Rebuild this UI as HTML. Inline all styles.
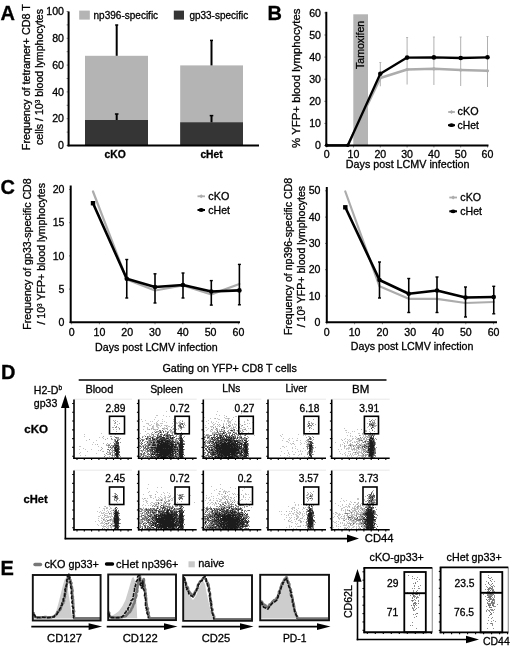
<!DOCTYPE html>
<html><head><meta charset="utf-8"><style>
html,body{margin:0;padding:0;background:#fff;}
svg{display:block;filter:blur(0.3px);}
text{font-family:"Liberation Sans",sans-serif;font-size:10.6px;fill:#000;stroke:#000;stroke-width:0.3px;}
</style></head><body>
<svg width="520" height="649" viewBox="0 0 520 649">
<defs><filter id="bl" x="-5%" y="-5%" width="110%" height="110%"><feGaussianBlur stdDeviation="0.55"/></filter></defs>
<rect width="520" height="649" fill="#fff"/>
<g filter="url(#bl)" transform="translate(0.5 0.5)"><path d="M233 410h0m-67 1h0m51 0h0m24 2h0m-25 1h0m-60 1h0m1 0h0m6 0h0m56 0h0m5 0h0m-58 1h0m3 0h0m66 0h0m1 0h0m-81 1h0m49 0h0m20 0h0m9 0h0m-23 1h0m4 0h0m3 0h0m8 0h0m1 0h0m1 0h0m2 0h0m-90 1h0m2 0h0m13 0h0m8 0h0m11 0h0m2 0h0m43 0h0m1 0h0m9 0h0m4 0h0m15 0h0m-102 1h0m13 0h0m22 0h0m2 0h0m26 0h0m13 0h0m3 0h0m3 0h0m1 0h0m3 0h0m17 0h0m-106 1h0m8 0h0m2 0h0m5 0h0m5 0h0m2 0h0m9 0h0m2 0h0m4 0h0m27 0h0m5 0h0m5 0h0m8 0h0m3 0h0m1 0h0m1 0h0m1 0h0m5 0h0m4 0h0m5 0h0m-88 1h0m10 0h0m10 0h0m2 0h0m1 0h0m5 0h0m27 0h0m2 0h0m5 0h0m10 0h0m1 0h0m1 0h0m14 0h0m8 0h0m-106 1h0m1 0h0m1 0h0m6 0h0m2 0h0m1 0h0m3 0h0m1 0h0m1 0h0m10 0h0m4 0h0m1 0h0m6 0h0m1 0h0m24 0h0m4 0h0m3 0h0m8 0h0m3 0h0m2 0h0m2 0h0m4 0h0m5 0h0m8 0h0m2 0h0m-101 1h0m3 0h0m6 0h0m1 0h0m55 0h0m1 0h0m12 0h0m3 0h0m5 0h0m1 0h0m1 0h0m4 0h0m5 0h0m-96 1h0m1 0h0m3 0h0m3 0h0m1 0h0m1 0h0m1 0h0m5 0h0m1 0h0m1 0h0m1 0h0m6 0h0m12 0h0m20 0h0m8 0h0m5 0h0m2 0h0m3 0h0m6 0h0m3 0h0m4 0h0m5 0h0m-98 1h0m1 0h0m9 0h0m3 0h0m1 0h0m3 0h0m8 0h0m1 0h0m3 0h0m3 0h0m3 0h0m32 0h0m1 0h0m6 0h0m9 0h0m4 0h0m3 0h0m2 0h0m4 0h0m2 0h0m-94 1h0m5 0h0m1 0h0m4 0h0m1 0h0m6 0h0m3 0h0m12 0h0m5 0h0m21 0h0m1 0h0m5 0h0m4 0h0m6 0h0m5 0h0m1 0h0m1 0h0m3 0h0m3 0h0m1 0h0m8 0h0m1 0h0m123 0h0m-220 1h0m5 0h0m1 0h0m5 0h0m6 0h0m1 0h0m2 0h0m41 0h0m5 0h0m4 0h0m6 0h0m3 0h0m1 0h0m3 0h0m1 0h0m1 0h0m1 0h0m3 0h0m4 0h0m1 0h0m4 0h0m3 0h0m96 0h0m-201 1h0m4 0h0m1 0h0m3 0h0m4 0h0m1 0h0m7 0h0m1 0h0m8 0h0m6 0h0m29 0h0m5 0h0m4 0h0m3 0h0m3 0h0m1 0h0m6 0h0m2 0h0m11 0h0m1 0h0m114 0h0m-202 1h0m10 0h0m5 0h0m10 0h0m26 0h0m4 0h0m2 0h0m7 0h0m4 0h0m10 0h0m3 0h0m4 0h0m6 0h0m99 0h0m1 0h0m20 0h0m-207 1h0m2 0h0m5 0h0m1 0h0m4 0h0m1 0h0m1 0h0m31 0h0m6 0h0m1 0h0m3 0h0m14 0h0m3 0h0m2 0h0m1 0h0m3 0h0m5 0h0m110 0h0m2 0h0m15 0h0m-212 1h0m13 0h0m1 0h0m5 0h0m36 0h0m1 0h0m2 0h0m5 0h0m15 0h0m1 0h0m3 0h0m9 0h0m98 0h0m2 0h0m15 0h0m-262 1h0m39 0h0m7 0h0m1 0h0m6 0h0m5 0h0m6 0h0m6 0h0m12 0h0m30 0h0m1 0h0m2 0h0m11 0h0m7 0h0m4 0h0m112 0h0m8 0h0m1 0h0m-275 1h0m62 0h0m3 0h0m2 0h0m4 0h0m1 0h0m22 0h0m43 0h0m3 0h0m18 0h0m40 0h0m16 0h0m64 0h0m3 0h0m-221 1h0m5 0h0m2 0h0m8 0h0m46 0h0m32 0h0m17 0h0m26 0h0m23 0h0m2 0h0m42 0h0m3 0h0m10 0h0m3 0h0m-279 1h0m59 0h0m9 0h0m26 0h0m44 0h0m59 0h0m69 0h0m2 0h0m3 0h0m8 0h0m2 0h0m3 0h0m-269 1h0m3 0h0m63 0h0m191 0h0m8 0h0m-261 1h0m66 0h0m39 0h0m75 0h0m6 0h0m3 0h0m5 0h0m35 0h0m13 0h0m7 0h0m1 0h0m2 0h0m2 0h0m2 0h0m1 0h0m-186 1h0m114 0h0m53 0h0m3 0h0m3 0h0m2 0h0m3 0h0m4 0h0m2 0h0m2 0h0m1 0h0m-275 1h0m10 0h0m186 0h0m7 0h0m7 0h0m1 0h0m3 0h0m48 0h0m2 0h0m1 0h0m7 0h0m-72 1h0m1 0h0m6 0h0m12 0h0m40 0h0m2 0h0m2 0h0m1 0h0m4 0h0m3 0h0m1 0h0m1 0h0m7 0h0m-273 1h0m195 0h0m12 0h0m35 0h0m8 0h0m11 0h0m1 0h0m2 0h0m2 0h0m3 0h0m2 0h0m3 0h0m-77 1h0m2 0h0m9 0h0m3 0h0m3 0h0m40 0h0m18 0h0m-273 1h0m3 0h0m196 0h0m3 0h0m6 0h0m6 0h0m34 0h0m2 0h0m7 0h0m2 0h0m1 0h0m8 0h0m1 0h0m1 0h0m1 0h0m2 0h0m-25 1h0m6 0h0m5 0h0m1 0h0m3 0h0m1 0h0m1 0h0m2 0h0m2 0h0m1 0h0m1 0h0m4 0h0m-288 1h0m1 0h0m18 0h0m184 0h0m1 0h0m3 0h0m9 0h0m45 0h0m5 0h0m5 0h0m1 0h0m4 0h0m2 0h0m4 0h0m-77 1h0m8 0h0m52 0h0m4 0h0m1 0h0m2 0h0m3 0h0m7 0h0m-278 1h0m197 0h0m12 0h0m3 0h0m8 0h0m41 0h0m2 0h0m1 0h0m1 0h0m1 0h0m2 0h0m5 0h0m1 0h0m3 0h0m1 0h0m-282 1h0m6 0h0m6 0h0m206 0h0m41 0h0m3 0h0m5 0h0m2 0h0m3 0h0m2 0h0m2 0h0m1 0h0m2 0h0m1 0h0m2 0h0m1 0h0m5 0h0m-269 1h0m189 0h0m13 0h0m5 0h0m47 0h0m2 0h0m2 0h0m1 0h0m4 0h0m1 0h0m2 0h0m2 0h0m-279 1h0m15 0h0m179 0h0m11 0h0m6 0h0m2 0h0m2 0h0m37 0h0m9 0h0m1 0h0m1 0h0m6 0h0m2 0h0m1 0h0m2 0h0m4 0h0m-285 1h0m208 0h0m7 0h0m50 0h0m9 0h0m2 0h0m1 0h0m1 0h0m1 0h0m1 0h0m-281 1h0m17 0h0m188 0h0m4 0h0m13 0h0m39 0h0m4 0h0m4 0h0m2 0h0m2 0h0m3 0h0m6 0h0m-72 1h0m4 0h0m1 0h0m5 0h0m2 0h0m41 0h0m3 0h0m7 0h0m2 0h0m1 0h0m1 0h0m2 0h0m4 0h0m-282 1h0m5 0h0m195 0h0m7 0h0m11 0h0m47 0h0m2 0h0m2 0h0m2 0h0m2 0h0m6 0h0m1 0h0m1 0h0m3 0h0m-75 1h0m15 0h0m43 0h0m4 0h0m6 0h0m4 0h0m-77 1h0m13 0h0m51 0h0m4 0h0m4 0h0m6 0h0m-214 27h0m72 0h0m-9 2h0m29 0h0m-83 1h0m4 0h0m69 0h0m-83 1h0m73 0h0m15 0h0m9 0h0m-70 1h0m42 0h0m6 0h0m-8 1h0m10 0h0m18 0h0m-93 1h0m7 0h0m64 0h0m3 0h0m1 0h0m1 0h0m1 0h0m2 0h0m1 0h0m-81 1h0m9 0h0m6 0h0m4 0h0m56 0h0m2 0h0m2 0h0m-63 1h0m5 0h0m42 0h0m7 0h0m1 0h0m13 0h0m2 0h0m11 0h0m-102 1h0m18 0h0m16 0h0m42 0h0m2 0h0m1 0h0m7 0h0m6 0h0m2 0h0m8 0h0m1 0h0m2 0h0m-99 1h0m1 0h0m1 0h0m13 0h0m4 0h0m2 0h0m20 0h0m16 0h0m11 0h0m7 0h0m15 0h0m4 0h0m-93 1h0m5 0h0m5 0h0m5 0h0m5 0h0m4 0h0m10 0h0m27 0h0m2 0h0m8 0h0m2 0h0m1 0h0m1 0h0m1 0h0m2 0h0m8 0h0m-86 1h0m1 0h0m4 0h0m3 0h0m3 0h0m3 0h0m1 0h0m2 0h0m1 0h0m1 0h0m4 0h0m5 0h0m28 0h0m3 0h0m13 0h0m3 0h0m3 0h0m3 0h0m7 0h0m1 0h0m4 0h0m2 0h0m4 0h0m-107 1h0m3 0h0m2 0h0m6 0h0m6 0h0m3 0h0m2 0h0m1 0h0m6 0h0m1 0h0m34 0h0m2 0h0m5 0h0m3 0h0m2 0h0m5 0h0m2 0h0m3 0h0m3 0h0m2 0h0m108 0h0m16 0h0m1 0h0m-215 1h0m13 0h0m4 0h0m2 0h0m3 0h0m3 0h0m2 0h0m2 0h0m2 0h0m36 0h0m9 0h0m1 0h0m1 0h0m3 0h0m3 0h0m2 0h0m1 0h0m4 0h0m7 0h0m1 0h0m3 0h0m3 0h0m109 0h0m1 0h0m6 0h0m-219 1h0m1 0h0m12 0h0m1 0h0m1 0h0m2 0h0m3 0h0m6 0h0m1 0h0m33 0h0m4 0h0m1 0h0m3 0h0m3 0h0m1 0h0m3 0h0m1 0h0m9 0h0m2 0h0m8 0h0m103 0h0m3 0h0m18 0h0m-221 1h0m3 0h0m1 0h0m20 0h0m2 0h0m48 0h0m3 0h0m8 0h0m2 0h0m1 0h0m2 0h0m2 0h0m2 0h0m103 0h0m4 0h0m6 0h0m-233 1h0m29 0h0m5 0h0m1 0h0m3 0h0m1 0h0m1 0h0m3 0h0m6 0h0m11 0h0m17 0h0m14 0h0m3 0h0m1 0h0m9 0h0m1 0h0m1 0h0m5 0h0m1 0h0m8 0h0m57 0h0m57 0h0m4 0h0m-208 1h0m3 0h0m3 0h0m3 0h0m3 0h0m2 0h0m2 0h0m1 0h0m4 0h0m2 0h0m37 0h0m3 0h0m3 0h0m3 0h0m7 0h0m6 0h0m17 0h0m60 0h0m29 0h0m14 0h0m8 0h0m1 0h0m3 0h0m1 0h0m-252 1h0m4 0h0m25 0h0m4 0h0m8 0h0m3 0h0m1 0h0m2 0h0m1 0h0m2 0h0m4 0h0m2 0h0m7 0h0m11 0h0m25 0h0m3 0h0m2 0h0m2 0h0m3 0h0m7 0h0m2 0h0m1 0h0m13 0h0m53 0h0m3 0h0m3 0h0m41 0h0m4 0h0m3 0h0m1 0h0m6 0h0m4 0h0m-246 1h0m28 0h0m3 0h0m3 0h0m2 0h0m2 0h0m4 0h0m2 0h0m6 0h0m2 0h0m2 0h0m1 0h0m3 0h0m42 0h0m13 0h0m68 0h0m3 0h0m40 0h0m4 0h0m6 0h0m7 0h0m-251 1h0m5 0h0m46 0h0m1 0h0m2 0h0m15 0h0m4 0h0m30 0h0m3 0h0m10 0h0m4 0h0m1 0h0m2 0h0m61 0h0m52 0h0m5 0h0m1 0h0m2 0h0m6 0h0m1 0h0m4 0h0m1 0h0m3 0h0m2 0h0m-266 1h0m7 0h0m1 0h0m3 0h0m33 0h0m15 0h0m62 0h0m5 0h0m12 0h0m5 0h0m9 0h0m41 0h0m1 0h0m1 0h0m11 0h0m2 0h0m36 0h0m1 0h0m3 0h0m2 0h0m3 0h0m2 0h0m2 0h0m2 0h0m2 0h0m-257 1h0m1 0h0m3 0h0m3 0h0m1 0h0m3 0h0m47 0h0m14 0h0m45 0h0m6 0h0m65 0h0m1 0h0m2 0h0m4 0h0m5 0h0m1 0h0m37 0h0m1 0h0m10 0h0m1 0h0m2 0h0m3 0h0m5 0h0m-259 1h0m5 0h0m4 0h0m1 0h0m56 0h0m34 0h0m26 0h0m62 0h0m4 0h0m6 0h0m39 0h0m4 0h0m2 0h0m7 0h0m1 0h0m1 0h0m1 0h0m2 0h0m2 0h0m2 0h0m1 0h0m-262 1h0m2 0h0m3 0h0m4 0h0m1 0h0m2 0h0m29 0h0m35 0h0m31 0h0m88 0h0m44 0h0m2 0h0m2 0h0m3 0h0m4 0h0m1 0h0m5 0h0m5 0h0m2 0h0m-268 1h0m3 0h0m6 0h0m2 0h0m129 0h0m42 0h0m2 0h0m8 0h0m7 0h0m3 0h0m4 0h0m42 0h0m4 0h0m1 0h0m2 0h0m1 0h0m2 0h0m6 0h0m-262 1h0m2 0h0m2 0h0m1 0h0m7 0h0m183 0h0m2 0h0m1 0h0m2 0h0m37 0h0m9 0h0m5 0h0m2 0h0m4 0h0m1 0h0m2 0h0m1 0h0m3 0h0m-262 1h0m1 0h0m1 0h0m2 0h0m1 0h0m1 0h0m6 0h0m43 0h0m133 0h0m1 0h0m2 0h0m1 0h0m4 0h0m1 0h0m2 0h0m2 0h0m2 0h0m2 0h0m27 0h0m3 0h0m1 0h0m2 0h0m5 0h0m10 0h0m4 0h0m2 0h0m1 0h0m-252 1h0m2 0h0m38 0h0m132 0h0m3 0h0m4 0h0m5 0h0m2 0h0m1 0h0m6 0h0m33 0h0m3 0h0m1 0h0m1 0h0m2 0h0m9 0h0m1 0h0m1 0h0m1 0h0m3 0h0m-257 1h0m4 0h0m2 0h0m1 0h0m4 0h0m175 0h0m2 0h0m3 0h0m5 0h0m1 0h0m5 0h0m2 0h0m34 0h0m1 0h0m7 0h0m3 0h0m1 0h0m1 0h0m3 0h0m1 0h0m7 0h0m1 0h0m-265 1h0m1 0h0m8 0h0m1 0h0m1 0h0m1 0h0m1 0h0m185 0h0m1 0h0m1 0h0m5 0h0m31 0h0m9 0h0m1 0h0m3 0h0m5 0h0m11 0h0m-262 1h0m2 0h0m2 0h0m2 0h0m179 0h0m3 0h0m2 0h0m3 0h0m3 0h0m1 0h0m4 0h0m31 0h0m7 0h0m4 0h0m3 0h0m8 0h0m5 0h0m-262 1h0m3 0h0m1 0h0m2 0h0m7 0h0m179 0h0m7 0h0m4 0h0m1 0h0m36 0h0m1 0h0m2 0h0m1 0h0m1 0h0m3 0h0m3 0h0m1 0h0m1 0h0m4 0h0m4 0h0m-255 1h0m5 0h0m3 0h0m172 0h0m5 0h0m5 0h0m5 0h0m5 0h0m35 0h0m4 0h0m2 0h0m1 0h0m7 0h0m-255 1h0m3 0h0m2 0h0m1 0h0m1 0h0m6 0h0m180 0h0m8 0h0m50 0h0m1 0h0m1 0h0m3 0h0m9 0h0m-268 1h0m4 0h0m3 0h0m4 0h0m4 0h0m178 0h0m1 0h0m1 0h0m5 0h0m8 0h0m30 0h0m3 0h0m2 0h0m8 0h0m2 0h0m3 0h0m1 0h0m1 0h0m1 0h0m4 0h0m1 0h0m1 0h0m-259 1h0m1 0h0m7 0h0m3 0h0m1 0h0m178 0h0m1 0h0m9 0h0m4 0h0m29 0h0m1 0h0m5 0h0m2 0h0m5 0h0m2 0h0m3 0h0m1 0h0m1 0h0m5 0h0m-259 1h0m1 0h0m1 0h0m1 0h0m4 0h0m3 0h0m1 0h0m184 0h0m2 0h0m39 0h0m4 0h0m2 0h0m2 0h0m3 0h0m10 0h0m1 0h0m-261 1h0m9 0h0m1 0h0m5 0h0m184 0h0m42 0h0m6 0h0m2 0h0m6 0h0m6 0h0m3 0h0m1 0h0m-264 1h0m3 0h0m2 0h0m3 0h0m2 0h0m1 0h0m180 0h0m11 0h0m3 0h0m2 0h0m27 0h0m4 0h0m7 0h0m1 0h0m1 0h0m1 0h0m2 0h0m2 0h0m1 0h0m1 0h0m6 0h0m3 0h0m2 0h0m-261 1h0m1 0h0m4 0h0m1 0h0m2 0h0m1 0h0m1 0h0m177 0h0m6 0h0m2 0h0m2 0h0m37 0h0m2 0h0m2 0h0m8 0h0m1 0h0m4 0h0m1 0h0m2 0h0m2 0h0m1 0h0m3 0h0m-259 1h0m5 0h0m2 0h0m4 0h0m172 0h0m3 0h0m16 0h0m28 0h0m11 0h0m1 0h0m4 0h0m3 0h0m1 0h0m3 0h0m6 0h0m1 0h0m1 0h0m-256 1h0m3 0h0m182 0h0m3 0h0m42 0h0m7 0h0m3 0h0m3 0h0m8 0h0m-258 1h0m3 0h0m8 0h0m184 0h0m46 0h0m17 0h0m1 0h0" stroke="rgb(196,196,196)" stroke-width="1" stroke-linecap="square" fill="none"/><path d="M226 416h0m-11 2h0m13 0h0m76 1h0m9 0h0m56 0h0m3 0h0m3 0h0m-262 1h0m2 0h0m132 0h0m126 0h0m1 0h0m-260 1h0m3 0h0m191 0h0m1 0h0m63 0h0m2 0h0m-194 1h0m128 0h0m3 0h0m59 0h0m3 0h0m-259 1h0m1 0h0m4 0h0m60 0h0m1 0h0m131 0h0m1 0h0m1 0h0m54 0h0m3 0h0m2 0h0m2 0h0m1 0h0m-258 1h0m39 0h0m23 0h0m2 0h0m36 0h0m2 0h0m4 0h0m9 0h0m12 0h0m63 0h0m8 0h0m59 0h0m-260 1h0m47 0h0m69 0h0m83 0h0m57 0h0m4 0h0m1 0h0m1 0h0m-224 1h0m14 0h0m46 0h0m3 0h0m4 0h0m28 0h0m60 0h0m4 0h0m57 0h0m2 0h0m3 0h0m1 0h0m1 0h0m-263 1h0m1 0h0m3 0h0m2 0h0m65 0h0m40 0h0m15 0h0m72 0h0m61 0h0m-220 1h0m12 0h0m15 0h0m72 0h0m61 0h0m63 0h0m-261 1h0m3 0h0m3 0h0m34 0h0m1 0h0m19 0h0m8 0h0m34 0h0m2 0h0m96 0h0m48 0h0m8 0h0m3 0h0m-203 1h0m47 0h0m5 0h0m144 0h0m-249 1h0m29 0h0m9 0h0m69 0h0m9 0h0m77 0h0m56 0h0m1 0h0m8 0h0m-201 1h0m41 0h0m28 0h0m128 0h0m-219 1h0m10 0h0m201 0h0m-247 1h0m89 0h0m2 0h0m1 0h0m1 0h0m4 0h0m1 0h0m2 0h0m10 0h0m144 0h0m-161 1h0m1 0h0m4 0h0m152 0h0m-262 1h0m7 0h0m1 0h0m3 0h0m28 0h0m6 0h0m56 0h0m1 0h0m2 0h0m1 0h0m5 0h0m95 0h0m1 0h0m3 0h0m54 0h0m1 0h0m-217 1h0m59 0h0m97 0h0m3 0h0m53 0h0m3 0h0m3 0h0m-261 1h0m10 0h0m23 0h0m5 0h0m3 0h0m56 0h0m5 0h0m1 0h0m5 0h0m96 0h0m50 0h0m2 0h0m1 0h0m-275 1h0m16 0h0m6 0h0m1 0h0m31 0h0m1 0h0m4 0h0m1 0h0m60 0h0m1 0h0m97 0h0m2 0h0m2 0h0m2 0h0m44 0h0m2 0h0m4 0h0m1 0h0m2 0h0m1 0h0m-253 1h0m91 0h0m4 0h0m3 0h0m94 0h0m1 0h0m1 0h0m4 0h0m30 0h0m18 0h0m5 0h0m1 0h0m-252 1h0m26 0h0m5 0h0m1 0h0m2 0h0m4 0h0m56 0h0m99 0h0m49 0h0m6 0h0m-249 1h0m26 0h0m9 0h0m57 0h0m1 0h0m1 0h0m4 0h0m3 0h0m92 0h0m2 0h0m1 0h0m38 0h0m5 0h0m-249 1h0m4 0h0m3 0h0m31 0h0m5 0h0m1 0h0m4 0h0m53 0h0m4 0h0m85 0h0m16 0h0m4 0h0m31 0h0m6 0h0m7 0h0m1 0h0m3 0h0m-264 1h0m9 0h0m2 0h0m1 0h0m35 0h0m3 0h0m58 0h0m7 0h0m3 0h0m135 0h0m-244 1h0m1 0h0m5 0h0m27 0h0m1 0h0m2 0h0m1 0h0m1 0h0m1 0h0m5 0h0m54 0h0m4 0h0m99 0h0m1 0h0m5 0h0m31 0h0m4 0h0m1 0h0m4 0h0m1 0h0m4 0h0m8 0h0m-258 1h0m4 0h0m2 0h0m25 0h0m2 0h0m1 0h0m4 0h0m4 0h0m2 0h0m52 0h0m7 0h0m133 0h0m14 0h0m1 0h0m6 0h0m-264 1h0m8 0h0m2 0h0m2 0h0m31 0h0m64 0h0m5 0h0m100 0h0m2 0h0m41 0h0m1 0h0m2 0h0m1 0h0m6 0h0m-264 1h0m10 0h0m31 0h0m6 0h0m1 0h0m158 0h0m5 0h0m40 0h0m1 0h0m9 0h0m4 0h0m-266 1h0m11 0h0m33 0h0m162 0h0m45 0h0m2 0h0m11 0h0m-265 1h0m11 0h0m1 0h0m28 0h0m2 0h0m2 0h0m219 0h0m-260 1h0m4 0h0m2 0h0m32 0h0m4 0h0m1 0h0m65 0h0m103 0h0m49 0h0m-256 1h0m1 0h0m1 0h0m1 0h0m1 0h0m1 0h0m1 0h0m29 0h0m4 0h0m5 0h0m156 0h0m1 0h0m45 0h0m8 0h0m5 0h0m-257 1h0m3 0h0m2 0h0m31 0h0m2 0h0m57 0h0m1 0h0m102 0h0m1 0h0m49 0h0m1 0h0m6 0h0m4 0h0m-264 1h0m3 0h0m1 0h0m1 0h0m31 0h0m2 0h0m2 0h0m6 0h0m161 0h0m2 0h0m37 0h0m16 0h0m-261 1h0m6 0h0m2 0h0m27 0h0m6 0h0m2 0h0m57 0h0m4 0h0m7 0h0m142 0h0m4 0h0m4 0h0m-257 1h0m3 0h0m33 0h0m5 0h0m55 0h0m1 0h0m102 0h0m54 0h0m1 0h0m-256 1h0m4 0h0m1 0h0m29 0h0m1 0h0m3 0h0m62 0h0m1 0h0m3 0h0m101 0h0m47 0h0m5 0h0m9 33h0m-154 1h0m94 0h0m-6 1h0m3 0h0m62 0h0m-258 1h0m194 0h0m3 0h0m62 0h0m-258 1h0m40 0h0m24 0h0m1 0h0m1 0h0m2 0h0m50 0h0m8 0h0m66 0h0m1 0h0m2 0h0m58 0h0m-254 1h0m64 0h0m3 0h0m1 0h0m45 0h0m79 0h0m1 0h0m4 0h0m1 0h0m57 0h0m2 0h0m-259 1h0m1 0h0m4 0h0m52 0h0m10 0h0m1 0h0m3 0h0m60 0h0m69 0h0m53 0h0m3 0h0m-144 1h0m6 0h0m4 0h0m72 0h0m1 0h0m1 0h0m3 0h0m57 0h0m5 0h0m-259 1h0m1 0h0m3 0h0m26 0h0m34 0h0m1 0h0m43 0h0m87 0h0m2 0h0m56 0h0m1 0h0m-252 1h0m42 0h0m3 0h0m21 0h0m126 0h0m4 0h0m56 0h0m5 0h0m1 0h0m1 0h0m-261 1h0m1 0h0m4 0h0m37 0h0m1 0h0m11 0h0m59 0h0m81 0h0m3 0h0m57 0h0m6 0h0m1 0h0m-259 1h0m65 0h0m69 0h0m57 0h0m58 0h0m1 0h0m6 0h0m1 0h0m1 0h0m-213 1h0m3 0h0m190 0h0m4 0h0m12 0h0m5 0h0m-221 1h0m61 0h0m7 0h0m4 0h0m144 0h0m-202 1h0m185 0h0m4 0h0m6 0h0m10 0h0m2 0h0m-210 1h0m193 0h0m2 0h0m2 0h0m4 0h0m1 0h0m-262 1h0m244 0h0m9 0h0m-154 1h0m14 0h0m85 0h0m54 0h0m4 0h0m-255 1h0m33 0h0m2 0h0m2 0h0m2 0h0m3 0h0m3 0h0m54 0h0m3 0h0m7 0h0m2 0h0m1 0h0m4 0h0m132 0h0m3 0h0m3 0h0m1 0h0m1 0h0m-222 1h0m4 0h0m8 0h0m60 0h0m3 0h0m136 0h0m-212 1h0m2 0h0m1 0h0m2 0h0m1 0h0m8 0h0m52 0h0m1 0h0m5 0h0m83 0h0m53 0h0m7 0h0m1 0h0m5 0h0m2 0h0m-252 1h0m29 0h0m15 0h0m51 0h0m3 0h0m1 0h0m1 0h0m9 0h0m67 0h0m5 0h0m65 0h0m7 0h0m1 0h0m-256 1h0m34 0h0m1 0h0m1 0h0m3 0h0m2 0h0m2 0h0m58 0h0m1 0h0m3 0h0m87 0h0m35 0h0m19 0h0m7 0h0m1 0h0m-252 1h0m1 0h0m29 0h0m1 0h0m3 0h0m1 0h0m2 0h0m2 0h0m3 0h0m52 0h0m4 0h0m3 0h0m137 0h0m1 0h0m2 0h0m5 0h0m1 0h0m5 0h0m-258 1h0m37 0h0m3 0h0m1 0h0m1 0h0m6 0h0m52 0h0m2 0h0m5 0h0m88 0h0m48 0h0m9 0h0m2 0h0m1 0h0m2 0h0m-259 1h0m3 0h0m39 0h0m1 0h0m7 0h0m1 0h0m54 0h0m137 0h0m3 0h0m5 0h0m9 0h0m-257 1h0m8 0h0m27 0h0m1 0h0m6 0h0m2 0h0m60 0h0m129 0h0m4 0h0m12 0h0m5 0h0m2 0h0m-254 1h0m2 0h0m2 0h0m31 0h0m1 0h0m1 0h0m1 0h0m3 0h0m4 0h0m53 0h0m7 0h0m127 0h0m13 0h0m1 0h0m1 0h0m1 0h0m5 0h0m-209 1h0m62 0h0m1 0h0m2 0h0m81 0h0m4 0h0m44 0h0m4 0h0m13 0h0m-255 1h0m5 0h0m29 0h0m5 0h0m2 0h0m4 0h0m53 0h0m2 0h0m3 0h0m87 0h0m55 0h0m3 0h0m3 0h0m-248 1h0m1 0h0m2 0h0m28 0h0m1 0h0m1 0h0m3 0h0m5 0h0m2 0h0m52 0h0m1 0h0m1 0h0m82 0h0m10 0h0m2 0h0m43 0h0m9 0h0m-247 1h0m2 0h0m5 0h0m28 0h0m1 0h0m2 0h0m3 0h0m7 0h0m55 0h0m2 0h0m90 0h0m1 0h0m54 0h0m1 0h0m-252 1h0m4 0h0m31 0h0m1 0h0m1 0h0m3 0h0m1 0h0m68 0h0m87 0h0m55 0h0m6 0h0m1 0h0m-257 1h0m7 0h0m1 0h0m26 0h0m6 0h0m3 0h0m56 0h0m144 0h0m1 0h0m1 0h0m1 0h0m3 0h0m2 0h0m3 0h0m1 0h0m-256 1h0m36 0h0m2 0h0m3 0h0m3 0h0m56 0h0m1 0h0m3 0h0m98 0h0m47 0h0m3 0h0m3 0h0m1 0h0m-248 1h0m31 0h0m3 0h0m1 0h0m57 0h0m3 0h0m155 0h0m-258 1h0m1 0h0m36 0h0m65 0h0m2 0h0m83 0h0m7 0h0m2 0h0m63 0h0m-257 1h0m5 0h0m33 0h0m4 0h0m58 0h0m141 0h0m12 0h0m-255 1h0m3 0h0m32 0h0m2 0h0m3 0h0m7 0h0m54 0h0m139 0h0m12 0h0m2 0h0m7 0h0m-221 1h0m1 0h0m2 0h0m58 0h0m140 0h0m8 0h0m11 0h0" stroke="rgb(172,172,172)" stroke-width="1" stroke-linecap="square" fill="none"/><path d="M184 424h0m-1 2h0m-12 1h0m11 0h0m31 0h0m20 0h0m-71 1h0m4 0h0m7 0h0m7 0h0m-31 1h0m8 0h0m10 0h0m3 0h0m6 0h0m35 0h0m22 0h0m11 0h0m1 0h0m-74 1h0m4 0h0m42 0h0m11 0h0m9 0h0m5 0h0m-86 1h0m1 0h0m1 0h0m10 0h0m2 0h0m49 0h0m2 0h0m19 0h0m3 0h0m-91 1h0m4 0h0m3 0h0m9 0h0m4 0h0m9 0h0m35 0h0m2 0h0m6 0h0m5 0h0m9 0h0m3 0h0m-75 1h0m6 0h0m6 0h0m2 0h0m32 0h0m3 0h0m4 0h0m2 0h0m5 0h0m2 0h0m1 0h0m3 0h0m7 0h0m6 0h0m127 0h0m3 0h0m-222 1h0m4 0h0m1 0h0m4 0h0m3 0h0m1 0h0m2 0h0m4 0h0m5 0h0m4 0h0m37 0h0m2 0h0m13 0h0m3 0h0m1 0h0m8 0h0m1 0h0m124 0h0m4 0h0m-216 1h0m3 0h0m4 0h0m8 0h0m3 0h0m3 0h0m28 0h0m15 0h0m4 0h0m1 0h0m7 0h0m1 0h0m5 0h0m4 0h0m115 0h0m10 0h0m1 0h0m3 0h0m1 0h0m-225 1h0m4 0h0m1 0h0m1 0h0m3 0h0m5 0h0m2 0h0m4 0h0m4 0h0m2 0h0m1 0h0m3 0h0m5 0h0m47 0h0m3 0h0m3 0h0m2 0h0m1 0h0m1 0h0m6 0h0m122 0h0m1 0h0m-253 1h0m1 0h0m21 0h0m9 0h0m5 0h0m18 0h0m12 0h0m55 0h0m1 0h0m6 0h0m3 0h0m119 0h0m2 0h0m3 0h0m-256 1h0m2 0h0m2 0h0m35 0h0m3 0h0m1 0h0m18 0h0m48 0h0m2 0h0m9 0h0m3 0h0m1 0h0m2 0h0m2 0h0m1 0h0m2 0h0m119 0h0m3 0h0m6 0h0m-261 1h0m1 0h0m2 0h0m1 0h0m1 0h0m28 0h0m10 0h0m1 0h0m9 0h0m3 0h0m3 0h0m2 0h0m1 0h0m2 0h0m1 0h0m37 0h0m18 0h0m2 0h0m2 0h0m1 0h0m2 0h0m1 0h0m1 0h0m1 0h0m1 0h0m123 0h0m6 0h0m2 0h0m-258 1h0m30 0h0m8 0h0m15 0h0m2 0h0m3 0h0m1 0h0m31 0h0m7 0h0m26 0h0m7 0h0m114 0h0m12 0h0m-223 1h0m4 0h0m19 0h0m2 0h0m1 0h0m1 0h0m5 0h0m1 0h0m20 0h0m23 0h0m13 0h0m1 0h0m2 0h0m-128 1h0m5 0h0m32 0h0m3 0h0m21 0h0m3 0h0m31 0h0m16 0h0m15 0h0m1 0h0m126 0h0m7 0h0m-260 1h0m25 0h0m15 0h0m1 0h0m20 0h0m8 0h0m23 0h0m6 0h0m25 0h0m8 0h0m2 0h0m60 0h0m58 0h0m9 0h0m-224 1h0m5 0h0m21 0h0m33 0h0m38 0h0m111 0h0m8 0h0m8 0h0m-228 1h0m4 0h0m23 0h0m39 0h0m25 0h0m4 0h0m6 0h0m-129 1h0m34 0h0m1 0h0m23 0h0m33 0h0m2 0h0m94 0h0m68 0h0m-255 1h0m59 0h0m5 0h0m59 0h0m125 0h0m2 0h0m7 0h0m-257 1h0m26 0h0m31 0h0m2 0h0m34 0h0m36 0h0m114 0h0m3 0h0m10 0h0m-191 1h0m26 0h0m5 0h0m33 0h0m127 0h0m-232 1h0m2 0h0m4 0h0m27 0h0m7 0h0m57 0h0m125 0h0m10 0h0m-261 1h0m35 0h0m34 0h0m20 0h0m7 0h0m38 0h0m119 0h0m8 0h0m-228 1h0m27 0h0m69 0h0m120 0h0m-210 1h0m3 0h0m2 0h0m18 0h0m2 0h0m5 0h0m25 0h0m154 0h0m-248 1h0m5 0h0m29 0h0m60 0h0m35 0h0m4 0h0m1 0h0m117 0h0m3 0h0m6 0h0m-260 1h0m4 0h0m26 0h0m30 0h0m2 0h0m1 0h0m7 0h0m64 0h0m115 0h0m2 0h0m10 0h0m-261 1h0m6 0h0m26 0h0m2 0h0m7 0h0m22 0h0m1 0h0m5 0h0m44 0h0m15 0h0m6 0h0m117 0h0m8 0h0m2 0h0m-259 1h0m2 0h0m29 0h0m6 0h0m1 0h0m2 0h0m3 0h0m9 0h0m6 0h0m3 0h0m2 0h0m4 0h0m21 0h0m10 0h0m21 0h0m4 0h0m2 0h0m6 0h0m61 0h0m62 0h0m3 0h0m1 0h0m-140 43h0m-70 1h0m2 0h0m2 0h0m51 0h0m6 0h0m2 0h0m-12 1h0m9 0h0m1 0h0m2 0h0m7 0h0m-67 1h0m2 0h0m49 0h0m13 0h0m6 0h0m2 0h0m124 0h0m6 0h0m-206 1h0m11 0h0m4 0h0m1 0h0m53 0h0m1 0h0m2 0h0m73 0h0m56 0h0m1 0h0m1 0h0m-213 1h0m2 0h0m7 0h0m13 0h0m1 0h0m3 0h0m1 0h0m1 0h0m40 0h0m4 0h0m3 0h0m1 0h0m2 0h0m5 0h0m5 0h0m1 0h0m1 0h0m6 0h0m57 0h0m7 0h0m59 0h0m-220 1h0m12 0h0m1 0h0m3 0h0m1 0h0m1 0h0m5 0h0m1 0h0m3 0h0m1 0h0m36 0h0m1 0h0m4 0h0m1 0h0m1 0h0m3 0h0m2 0h0m1 0h0m1 0h0m2 0h0m4 0h0m1 0h0m7 0h0m2 0h0m1 0h0m61 0h0m1 0h0m3 0h0m45 0h0m9 0h0m1 0h0m5 0h0m-257 1h0m45 0h0m2 0h0m3 0h0m3 0h0m2 0h0m1 0h0m2 0h0m33 0h0m1 0h0m14 0h0m1 0h0m1 0h0m7 0h0m1 0h0m2 0h0m5 0h0m2 0h0m4 0h0m68 0h0m55 0h0m8 0h0m-258 1h0m35 0h0m4 0h0m2 0h0m2 0h0m4 0h0m2 0h0m4 0h0m6 0h0m1 0h0m1 0h0m3 0h0m47 0h0m9 0h0m2 0h0m69 0h0m4 0h0m57 0h0m4 0h0m-258 1h0m40 0h0m5 0h0m6 0h0m5 0h0m4 0h0m1 0h0m3 0h0m1 0h0m2 0h0m38 0h0m4 0h0m7 0h0m3 0h0m7 0h0m1 0h0m64 0h0m1 0h0m5 0h0m53 0h0m7 0h0m4 0h0m-217 1h0m1 0h0m1 0h0m4 0h0m9 0h0m1 0h0m1 0h0m8 0h0m37 0h0m4 0h0m8 0h0m2 0h0m9 0h0m3 0h0m60 0h0m57 0h0m-246 1h0m26 0h0m7 0h0m2 0h0m2 0h0m9 0h0m9 0h0m45 0h0m11 0h0m2 0h0m5 0h0m5 0h0m5 0h0m60 0h0m5 0h0m2 0h0m45 0h0m17 0h0m-262 1h0m1 0h0m42 0h0m5 0h0m60 0h0m16 0h0m2 0h0m5 0h0m62 0h0m69 0h0m-220 1h0m4 0h0m19 0h0m36 0h0m6 0h0m3 0h0m13 0h0m5 0h0m2 0h0m4 0h0m128 0h0m-262 1h0m1 0h0m4 0h0m35 0h0m2 0h0m4 0h0m49 0h0m35 0h0m63 0h0m1 0h0m6 0h0m62 0h0m-257 1h0m1 0h0m28 0h0m2 0h0m8 0h0m21 0h0m5 0h0m1 0h0m57 0h0m2 0h0m1 0h0m3 0h0m67 0h0m63 0h0m-230 1h0m4 0h0m83 0h0m9 0h0m1 0h0m1 0h0m2 0h0m60 0h0m6 0h0m43 0h0m3 0h0m7 0h0m-253 1h0m37 0h0m27 0h0m6 0h0m22 0h0m9 0h0m35 0h0m65 0h0m47 0h0m1 0h0m14 0h0m-257 1h0m26 0h0m4 0h0m62 0h0m8 0h0m137 0h0m4 0h0m5 0h0m11 0h0m-263 1h0m6 0h0m1 0h0m30 0h0m3 0h0m31 0h0m27 0h0m29 0h0m4 0h0m3 0h0m59 0h0m1 0h0m6 0h0m49 0h0m-249 1h0m6 0h0m32 0h0m92 0h0m113 0h0m19 0h0m-228 1h0m8 0h0m20 0h0m47 0h0m27 0h0m125 0h0m-200 1h0m139 0h0m2 0h0m45 0h0m14 0h0m-254 1h0m63 0h0m30 0h0m93 0h0m7 0h0m-199 1h0m37 0h0m55 0h0m3 0h0m3 0h0m33 0h0m2 0h0m1 0h0m65 0h0m1 0h0m59 0h0m3 0h0m-226 1h0m4 0h0m29 0h0m31 0h0m30 0h0m62 0h0m1 0h0m6 0h0m52 0h0m9 0h0m-261 1h0m64 0h0m1 0h0m34 0h0m37 0h0m64 0h0m61 0h0m-224 1h0m17 0h0m50 0h0m24 0h0m2 0h0m2 0h0m62 0h0m4 0h0m2 0h0m62 0h0m-230 1h0m7 0h0m3 0h0m2 0h0m2 0h0m3 0h0m17 0h0m4 0h0m31 0h0m7 0h0m17 0h0m4 0h0m2 0h0m3 0h0m60 0h0m5 0h0m-166 1h0m3 0h0m2 0h0m8 0h0m1 0h0m2 0h0m11 0h0m1 0h0m2 0h0m3 0h0m1 0h0m29 0h0m2 0h0m4 0h0m3 0h0m2 0h0m8 0h0m5 0h0m2 0h0m1 0h0m1 0h0m2 0h0m1 0h0m3 0h0m5 0h0m61 0h0m1 0h0m1 0h0m2 0h0m54 0h0m1 0h0m5 0h0" stroke="rgb(148,148,148)" stroke-width="1" stroke-linecap="square" fill="none"/><path d="M182 421h0m187 0h0m-254 1h0m257 0h0m2 0h0m-66 1h0m61 0h0m2 0h0m2 0h0m-64 1h0m3 0h0m60 0h0m1 0h0m-195 1h0m1 0h0m4 0h0m45 0h0m14 0h0m67 0h0m1 0h0m1 0h0m58 0h0m2 0h0m-255 1h0m63 0h0m2 0h0m48 0h0m143 0h0m-257 1h0m65 0h0m44 0h0m15 0h0m70 0h0m64 0h0m-254 1h0m62 0h0m35 0h0m22 1h0m-78 1h0m5 1h0m9 0h0m48 0h0m2 0h0m3 0h0m-66 1h0m56 0h0m11 0h0m6 0h0m-52 1h0m36 0h0m2 0h0m10 0h0m-78 1h0m77 0h0m10 0h0m-86 1h0m7 0h0m46 0h0m17 0h0m145 0h0m-218 1h0m59 0h0m5 0h0m3 0h0m-75 1h0m9 0h0m18 0h0m36 0h0m2 0h0m17 0h0m8 0h0m2 0h0m79 0h0m47 0h0m-249 1h0m42 0h0m1 0h0m19 0h0m34 0h0m4 0h0m10 0h0m137 0h0m-217 1h0m1 0h0m13 0h0m16 0h0m47 0h0m-67 1h0m3 0h0m21 0h0m31 0h0m153 0h0m-217 1h0m5 0h0m2 0h0m15 0h0m41 0h0m2 0h0m2 0h0m6 0h0m2 0h0m91 0h0m56 0h0m-220 1h0m5 0h0m59 0h0m104 0h0m53 0h0m-217 1h0m1 0h0m1 0h0m55 0h0m162 0h0m-60 1h0m59 0h0m-258 1h0m1 0h0m2 0h0m2 0h0m33 0h0m59 0h0m1 0h0m106 0h0m56 0h0m-258 1h0m38 0h0m3 0h0m5 0h0m50 0h0m101 0h0m1 0h0m4 0h0m41 0h0m-245 1h0m33 0h0m2 0h0m4 0h0m2 0h0m209 0h0m7 0h0m-254 1h0m29 0h0m167 0h0m5 0h0m46 0h0m8 0h0m-259 1h0m98 0h0m8 0h0m150 0h0m1 0h0m-251 1h0m91 0h0m2 0h0m3 0h0m103 0h0m55 0h0m-255 1h0m30 0h0m6 0h0m60 0h0m6 0h0m94 0h0m4 0h0m52 0h0m-160 1h0m108 0h0m43 0h0m10 0h0m-259 1h0m4 0h0m30 0h0m4 0h0m6 0h0m57 0h0m-97 1h0m2 0h0m31 0h0m61 0h0m103 0h0m5 0h0m51 0h0m4 0h0m-226 1h0m2 0h0m2 0h0m8 0h0m55 0h0m3 0h0m3 0h0m-110 1h0m35 0h0m3 0h0m67 0h0m159 0h0m-162 1h0m104 0h0m62 34h0m-1 1h0m-256 1h0m110 0h0m-109 1h0m66 0h0m130 0h0m57 0h0m2 0h0m2 0h0m-258 1h0m2 0h0m255 0h0m-258 1h0m67 0h0m1 0h0m127 0h0m2 0h0m59 0h0m-256 1h0m2 0h0m1 0h0m62 0h0m190 0h0m5 0h0m-258 1h0m65 0h0m1 0h0m125 0h0m5 0h0m59 0h0m2 0h0m-256 1h0m109 0h0m144 0h0m1 0h0m-255 1h0m53 0h0m198 0h0m3 0h0m3 0h0m-5 1h0m1 0h0m-211 1h0m7 0h0m67 0h0m-67 1h0m9 0h0m54 0h0m-72 1h0m24 0h0m42 0h0m8 0h0m1 0h0m-68 1h0m57 0h0m19 0h0m-85 1h0m13 0h0m-10 1h0m10 0h0m43 0h0m16 0h0m2 0h0m80 0h0m-168 1h0m6 0h0m8 0h0m28 0h0m25 0h0m3 0h0m4 0h0m5 0h0m6 0h0m8 0h0m1 0h0m130 0h0m-223 1h0m1 0h0m3 0h0m2 0h0m1 0h0m2 0h0m1 0h0m14 0h0m41 0h0m2 0h0m2 0h0m152 0h0m-215 1h0m1 0h0m3 0h0m6 0h0m6 0h0m44 0h0m7 0h0m2 0h0m13 0h0m16 0h0m104 0h0m-232 1h0m23 0h0m1 0h0m6 0h0m64 0h0m3 0h0m2 0h0m-9 1h0m11 0h0m133 0h0m13 0h0m-255 1h0m37 0h0m2 0h0m2 0h0m4 0h0m4 0h0m82 0h0m105 0h0m1 0h0m1 0h0m-142 1h0m2 0h0m3 0h0m3 0h0m13 0h0m134 0h0m2 0h0m-221 1h0m1 0h0m64 0h0m3 0h0m2 0h0m2 0h0m143 0h0m4 0h0m-216 1h0m9 0h0m54 0h0m6 0h0m135 0h0m3 0h0m10 0h0m-215 1h0m62 0h0m140 0h0m2 0h0m-237 1h0m30 0h0m1 0h0m60 0h0m148 0h0m2 0h0m8 0h0m2 0h0m-261 1h0m7 0h0m32 0h0m1 0h0m1 0h0m64 0h0m140 0h0m2 0h0m6 0h0m2 0h0m-251 1h0m1 0h0m36 0h0m2 0h0m198 0h0m9 0h0m4 0h0m1 0h0m1 0h0m1 0h0m4 0h0m-251 1h0m98 0h0m95 0h0m57 0h0m-221 1h0m62 0h0m2 0h0m100 0h0m57 0h0m-257 1h0m2 0h0m32 0h0m1 0h0m3 0h0m5 0h0m3 0h0m57 0h0m1 0h0m97 0h0m55 0h0m1 0h0m-214 1h0m1 0h0m60 0h0m1 0h0m139 0h0m-210 1h0m5 0h0m61 0h0m2 0h0m2 0h0m-70 1h0m2 0h0m2 0h0m65 0h0m8 0h0m-75 1h0m223 0h0m-263 1h0m44 0h0m60 0h0m1 0h0m1 0h0m101 0h0m37 0h0m14 0h0m3 0h0m3 1h0" stroke="rgb(125,125,125)" stroke-width="1" stroke-linecap="square" fill="none"/><path d="M371 420h0m-1 1h0m-189 2h0m1 0h0m127 0h0m-129 1h0m189 0h0m1 0h0m-190 1h0m193 0h0m-150 1h0m85 0h0m-86 1h0m2 1h0m85 0h0m-88 1h0m13 0h0m-75 1h0m3 0h0m62 0h0m6 0h0m4 0h0m138 0h0m-212 1h0m60 0h0m-57 1h0m67 0h0m-8 1h0m2 0h0m11 0h0m1 0h0m-69 1h0m2 0h0m11 0h0m2 0h0m35 0h0m2 0h0m21 0h0m132 0h0m-204 1h0m1 0h0m2 0h0m1 0h0m38 0h0m1 0h0m6 0h0m7 0h0m8 0h0m6 0h0m7 0h0m126 0h0m1 0h0m-227 1h0m2 0h0m10 0h0m9 0h0m2 0h0m13 0h0m38 0h0m8 0h0m1 0h0m1 0h0m1 0h0m2 0h0m3 0h0m-120 1h0m1 0h0m31 0h0m9 0h0m3 0h0m1 0h0m1 0h0m5 0h0m1 0h0m1 0h0m5 0h0m6 0h0m33 0h0m2 0h0m5 0h0m4 0h0m7 0h0m10 0h0m4 0h0m66 0h0m63 0h0m-226 1h0m18 0h0m11 0h0m2 0h0m1 0h0m3 0h0m37 0h0m4 0h0m6 0h0m3 0h0m3 0h0m6 0h0m2 0h0m67 0h0m-160 1h0m2 0h0m14 0h0m2 0h0m4 0h0m32 0h0m7 0h0m3 0h0m18 0h0m14 0h0m62 0h0m63 0h0m2 0h0m-233 1h0m2 0h0m1 0h0m6 0h0m1 0h0m3 0h0m2 0h0m5 0h0m23 0h0m30 0h0m3 0h0m7 0h0m15 0h0m1 0h0m7 0h0m115 0h0m11 0h0m-257 1h0m35 0h0m4 0h0m2 0h0m7 0h0m7 0h0m5 0h0m50 0h0m8 0h0m5 0h0m1 0h0m3 0h0m3 0h0m66 0h0m56 0h0m1 0h0m1 0h0m5 0h0m-233 1h0m9 0h0m10 0h0m13 0h0m2 0h0m3 0h0m31 0h0m3 0h0m7 0h0m3 0h0m1 0h0m17 0h0m3 0h0m120 0h0m-211 1h0m2 0h0m3 0h0m16 0h0m2 0h0m4 0h0m4 0h0m28 0h0m1 0h0m3 0h0m2 0h0m13 0h0m9 0h0m3 0h0m69 0h0m-197 1h0m2 0h0m1 0h0m1 0h0m27 0h0m3 0h0m2 0h0m9 0h0m15 0h0m4 0h0m6 0h0m20 0h0m16 0h0m22 0h0m66 0h0m48 0h0m8 0h0m4 0h0m-212 1h0m14 0h0m6 0h0m2 0h0m32 0h0m37 0h0m103 0h0m10 0h0m4 0h0m-224 1h0m5 0h0m2 0h0m8 0h0m21 0h0m2 0h0m27 0h0m2 0h0m1 0h0m7 0h0m28 0h0m119 0h0m1 0h0m1 0h0m3 0h0m-257 1h0m2 0h0m5 0h0m31 0h0m25 0h0m31 0h0m6 0h0m2 0h0m28 0h0m3 0h0m64 0h0m55 0h0m12 0h0m-258 1h0m28 0h0m2 0h0m1 0h0m6 0h0m21 0h0m1 0h0m31 0h0m2 0h0m1 0h0m2 0h0m2 0h0m1 0h0m28 0h0m2 0h0m3 0h0m-139 1h0m2 0h0m4 0h0m5 0h0m27 0h0m1 0h0m8 0h0m23 0h0m30 0h0m31 0h0m1 0h0m1 0h0m71 0h0m-203 1h0m32 0h0m6 0h0m1 0h0m25 0h0m2 0h0m2 0h0m36 0h0m1 0h0m25 0h0m3 0h0m69 0h0m63 0h0m-255 1h0m28 0h0m3 0h0m1 0h0m3 0h0m20 0h0m2 0h0m2 0h0m29 0h0m2 0h0m6 0h0m22 0h0m3 0h0m2 0h0m1 0h0m123 0h0m2 0h0m6 0h0m-260 1h0m36 0h0m3 0h0m20 0h0m3 0h0m2 0h0m5 0h0m22 0h0m5 0h0m6 0h0m24 0h0m70 0h0m64 0h0m1 0h0m-234 1h0m2 0h0m5 0h0m3 0h0m4 0h0m16 0h0m4 0h0m36 0h0m4 0h0m15 0h0m14 0h0m4 0h0m63 0h0m63 0h0m1 0h0m-228 1h0m8 0h0m21 0h0m1 0h0m1 0h0m29 0h0m3 0h0m6 0h0m21 0h0m2 0h0m3 0h0m-130 1h0m3 0h0m4 0h0m31 0h0m28 0h0m28 0h0m1 0h0m8 0h0m15 0h0m7 0h0m1 0h0m1 0h0m4 0h0m125 0h0m5 0h0m1 0h0m-256 1h0m22 0h0m9 0h0m4 0h0m3 0h0m11 0h0m6 0h0m1 0h0m37 0h0m1 0h0m2 0h0m3 0h0m21 0h0m1 0h0m1 0h0m1 0h0m69 0h0m-195 1h0m35 0h0m1 0h0m21 0h0m4 0h0m29 0h0m8 0h0m3 0h0m6 0h0m14 0h0m4 0h0m3 0h0m1 0h0m1 0h0m1 0h0m63 0h0m61 37h0m-191 1h0m131 0h0m57 0h0m7 1h0m-194 1h0m1 0h0m190 0h0m-254 1h0m63 0h0m190 0h0m-256 1h0m47 1h0m211 0h0m-2 1h0m-2 1h0m1 0h0m2 0h0m1 0h0m1 0h0m1 0h0m-149 1h0m147 0h0m1 0h0m-204 1h0m51 0h0m90 0h0m59 0h0m1 0h0m-193 1h0m58 0h0m5 0h0m71 0h0m58 0h0m1 0h0m3 0h0m-216 1h0m3 0h0m6 0h0m6 0h0m10 0h0m37 0h0m14 0h0m5 0h0m130 0h0m2 0h0m-209 1h0m8 0h0m3 0h0m8 0h0m1 0h0m2 0h0m44 0h0m8 0h0m130 0h0m1 0h0m6 0h0m-219 1h0m10 0h0m4 0h0m2 0h0m3 0h0m34 0h0m3 0h0m4 0h0m3 0h0m8 0h0m8 0h0m3 0h0m3 0h0m3 0h0m68 0h0m2 0h0m59 0h0m2 0h0m-223 1h0m4 0h0m1 0h0m2 0h0m6 0h0m6 0h0m5 0h0m4 0h0m1 0h0m38 0h0m3 0h0m7 0h0m2 0h0m7 0h0m2 0h0m3 0h0m71 0h0m-198 1h0m5 0h0m28 0h0m3 0h0m1 0h0m4 0h0m4 0h0m4 0h0m4 0h0m3 0h0m2 0h0m1 0h0m1 0h0m40 0h0m9 0h0m1 0h0m5 0h0m6 0h0m3 0h0m4 0h0m7 0h0m1 0h0m123 0h0m2 0h0m-260 1h0m31 0h0m5 0h0m2 0h0m4 0h0m6 0h0m13 0h0m2 0h0m5 0h0m24 0h0m9 0h0m9 0h0m4 0h0m10 0h0m6 0h0m63 0h0m58 0h0m1 0h0m8 0h0m-256 1h0m37 0h0m3 0h0m2 0h0m9 0h0m1 0h0m3 0h0m4 0h0m34 0h0m1 0h0m2 0h0m2 0h0m4 0h0m2 0h0m3 0h0m15 0h0m125 0h0m9 0h0m-255 1h0m23 0h0m21 0h0m2 0h0m5 0h0m9 0h0m30 0h0m8 0h0m1 0h0m4 0h0m5 0h0m2 0h0m1 0h0m3 0h0m2 0h0m7 0h0m122 0h0m10 0h0m-224 1h0m4 0h0m4 0h0m51 0h0m3 0h0m9 0h0m10 0h0m81 0h0m61 0h0m1 0h0m2 0h0m-226 1h0m1 0h0m57 0h0m7 0h0m1 0h0m21 0h0m3 0h0m5 0h0m1 0h0m61 0h0m5 0h0m1 0h0m51 0h0m1 0h0m-247 1h0m23 0h0m4 0h0m7 0h0m22 0h0m3 0h0m1 0h0m26 0h0m2 0h0m9 0h0m16 0h0m5 0h0m6 0h0m4 0h0m2 0h0m-103 1h0m15 0h0m13 0h0m5 0h0m32 0h0m30 0h0m4 0h0m1 0h0m1 0h0m1 0h0m61 0h0m55 0h0m11 0h0m1 0h0m-233 1h0m4 0h0m37 0h0m23 0h0m1 0h0m10 0h0m24 0h0m1 0h0m3 0h0m3 0h0m109 0h0m9 0h0m-225 1h0m5 0h0m3 0h0m5 0h0m21 0h0m3 0h0m5 0h0m22 0h0m8 0h0m2 0h0m4 0h0m136 0h0m4 0h0m1 0h0m-213 1h0m1 0h0m6 0h0m24 0h0m29 0h0m2 0h0m2 0h0m1 0h0m1 0h0m4 0h0m90 0h0m7 0h0m-172 1h0m6 0h0m2 0h0m33 0h0m23 0h0m3 0h0m10 0h0m21 0h0m4 0h0m4 0h0m59 0h0m6 0h0m1 0h0m48 0h0m2 0h0m9 0h0m2 0h0m-228 1h0m2 0h0m1 0h0m27 0h0m6 0h0m25 0h0m2 0h0m1 0h0m9 0h0m28 0h0m118 0h0m-252 1h0m5 0h0m39 0h0m49 0h0m5 0h0m2 0h0m3 0h0m27 0h0m2 0h0m107 0h0m20 0h0m2 0h0m-264 1h0m7 0h0m25 0h0m11 0h0m2 0h0m23 0h0m5 0h0m35 0h0m27 0h0m61 0h0m56 0h0m-253 1h0m3 0h0m36 0h0m9 0h0m53 0h0m5 0h0m3 0h0m3 0h0m3 0h0m15 0h0m1 0h0m2 0h0m4 0h0m1 0h0m116 0h0m-250 1h0m4 0h0m1 0h0m28 0h0m3 0h0m1 0h0m32 0h0m24 0h0m3 0h0m1 0h0m3 0h0m25 0h0m8 0h0m117 0h0m1 0h0m8 0h0m4 0h0m-237 1h0m7 0h0m4 0h0m23 0h0m1 0h0m8 0h0m26 0h0m7 0h0m4 0h0m88 0h0m4 0h0m-196 1h0m2 0h0m30 0h0m1 0h0m4 0h0m1 0h0m21 0h0m1 0h0m28 0h0m6 0h0m29 0h0m6 0h0m1 0h0m2 0h0m63 0h0m2 0h0m51 0h0m12 0h0m-262 1h0m2 0h0m40 0h0m5 0h0m5 0h0m2 0h0m4 0h0m5 0h0m1 0h0m41 0h0m2 0h0m4 0h0m4 0h0m2 0h0m1 0h0m2 0h0m7 0h0m1 0h0m4 0h0m62 0h0m61 0h0" stroke="rgb(101,101,101)" stroke-width="1" stroke-linecap="square" fill="none"/><path d="M182 424h0m189 0h0m-63 1h0m-128 1h0m1 1h0m191 0h0m-140 3h0m-69 1h0m54 0h0m-62 1h0m12 0h0m58 0h0m-67 1h0m9 0h0m12 0h0m192 0h0m-211 1h0m1 0h0m3 0h0m50 0h0m2 0h0m6 0h0m10 0h0m2 0h0m-77 1h0m6 0h0m56 0h0m2 0h0m-51 1h0m50 0h0m-16 1h0m4 0h0m7 0h0m2 0h0m18 0h0m-85 1h0m6 0h0m6 0h0m52 0h0m4 0h0m91 0h0m-163 1h0m66 0h0m1 0h0m7 0h0m90 0h0m60 0h0m-255 1h0m37 0h0m58 0h0m7 0h0m2 0h0m16 0h0m-82 1h0m57 0h0m1 0h0m2 0h0m3 0h0m3 0h0m1 0h0m145 0h0m-248 1h0m193 0h0m-196 1h0m28 0h0m76 0h0m94 0h0m-197 1h0m26 0h0m11 0h0m67 0h0m91 0h0m59 0h0m-255 1h0m34 0h0m1 0h0m60 0h0m3 0h0m2 0h0m1 0h0m150 0h0m-222 1h0m2 1h0m5 0h0m59 0h0m102 0h0m-163 1h0m3 0h0m1 0h0m2 0h0m51 0h0m-62 1h0m6 0h0m1 0h0m1 0h0m2 0h0m53 0h0m103 0h0m-195 1h0m36 0h0m1 0h0m56 0h0m3 0h0m-58 1h0m60 0h0m99 0h0m-167 1h0m8 0h0m59 0h0m100 0h0m-101 1h0m4 0h0m4 0h0m92 0h0m-169 1h0m8 0h0m68 0h0m-66 1h0m62 0h0m96 0h0m2 0h0m-168 1h0m4 0h0m5 0h0m52 0h0m4 0h0m12 0h0m150 0h0m-218 1h0m57 0h0m102 0h0m-131 38h0m193 0h0m1 0h0m-64 1h0m59 0h0m2 0h0m1 0h0m1 0h0m-63 2h0m59 0h0m3 0h0m-214 5h0m213 0h0m-148 1h0m1 1h0m-61 1h0m1 1h0m204 0h0m-218 1h0m15 0h0m46 0h0m-95 1h0m58 0h0m33 0h0m4 0h0m6 0h0m1 0h0m5 0h0m144 0h0m-155 1h0m3 0h0m2 0h0m2 0h0m-71 1h0m12 0h0m73 0h0m-87 1h0m2 0h0m2 0h0m3 0h0m11 0h0m41 0h0m10 0h0m8 0h0m-11 1h0m151 0h0m-216 1h0m4 0h0m63 0h0m4 0h0m145 0h0m1 0h0m-221 1h0m67 0h0m2 0h0m-58 1h0m51 0h0m4 0h0m3 0h0m4 0h0m1 0h0m145 0h0m-214 1h0m6 0h0m55 0h0m4 0h0m136 0h0m8 0h0m-210 1h0m4 0h0m1 0h0m1 0h0m1 0h0m51 0h0m5 0h0m6 1h0m145 0h0m2 0h0m-214 1h0m213 0h0m3 0h0m-213 1h0m2 0h0m61 0h0m-61 1h0m58 0h0m2 0h0m1 0h0m1 0h0m2 0h0m146 0h0m-221 1h0m7 0h0m1 0h0m64 0h0m146 0h0m5 0h0m-213 1h0m61 0h0m1 0h0m3 0h0m90 0h0m-164 1h0m65 0h0m4 0h0m-68 1h0m3 0h0m6 0h0m51 0h0m8 0h0m2 0h0m92 0h0m54 0h0m-156 1h0m3 0h0m3 0h0m2 0h0m5 0h0m-71 1h0m3 0h0m61 0h0m2 0h0m2 0h0m1 0h0m1 0h0m1 0h0m-105 1h0m41 0h0" stroke="rgb(77,77,77)" stroke-width="1" stroke-linecap="square" fill="none"/><path d="M371 428h0m-140 2h0m-71 2h0m63 0h0m10 0h0m-10 1h0m147 0h0m-144 1h0m-62 1h0m2 0h0m1 0h0m3 0h0m10 0h0m1 0h0m33 0h0m11 0h0m4 0h0m2 0h0m-72 1h0m1 0h0m1 0h0m6 0h0m13 0h0m36 0h0m5 0h0m5 0h0m7 0h0m138 0h0m2 0h0m-221 1h0m5 0h0m1 0h0m6 0h0m10 0h0m6 0h0m31 0h0m2 0h0m8 0h0m1 0h0m4 0h0m1 0h0m1 0h0m5 0h0m4 0h0m4 0h0m129 0h0m1 0h0m-225 1h0m3 0h0m8 0h0m3 0h0m1 0h0m2 0h0m1 0h0m4 0h0m2 0h0m1 0h0m45 0h0m1 0h0m5 0h0m2 0h0m2 0h0m2 0h0m5 0h0m4 0h0m9 0h0m127 0h0m-220 1h0m3 0h0m3 0h0m1 0h0m1 0h0m1 0h0m1 0h0m1 0h0m1 0h0m4 0h0m11 0h0m1 0h0m1 0h0m33 0h0m2 0h0m4 0h0m1 0h0m2 0h0m2 0h0m2 0h0m2 0h0m1 0h0m2 0h0m-75 1h0m1 0h0m4 0h0m2 0h0m1 0h0m2 0h0m1 0h0m1 0h0m2 0h0m7 0h0m3 0h0m32 0h0m4 0h0m3 0h0m1 0h0m2 0h0m3 0h0m4 0h0m1 0h0m1 0h0m3 0h0m1 0h0m3 0h0m2 0h0m3 0h0m128 0h0m-257 1h0m1 0h0m54 0h0m1 0h0m1 0h0m9 0h0m30 0h0m6 0h0m3 0h0m1 0h0m1 0h0m1 0h0m4 0h0m1 0h0m3 0h0m5 0h0m9 0h0m1 0h0m62 0h0m1 0h0m62 0h0m-256 1h0m2 0h0m29 0h0m9 0h0m1 0h0m7 0h0m2 0h0m2 0h0m1 0h0m2 0h0m1 0h0m5 0h0m39 0h0m1 0h0m1 0h0m9 0h0m4 0h0m1 0h0m1 0h0m1 0h0m3 0h0m2 0h0m5 0h0m67 0h0m58 0h0m4 0h0m1 0h0m-258 1h0m1 0h0m1 0h0m35 0h0m5 0h0m4 0h0m7 0h0m1 0h0m2 0h0m5 0h0m5 0h0m27 0h0m5 0h0m5 0h0m2 0h0m13 0h0m2 0h0m4 0h0m7 0h0m63 0h0m58 0h0m1 0h0m4 0h0m1 0h0m-225 1h0m4 0h0m1 0h0m1 0h0m13 0h0m1 0h0m7 0h0m7 0h0m30 0h0m1 0h0m13 0h0m8 0h0m2 0h0m1 0h0m1 0h0m1 0h0m1 0h0m2 0h0m3 0h0m1 0h0m62 0h0m64 0h0m1 0h0m-259 1h0m3 0h0m37 0h0m18 0h0m2 0h0m36 0h0m8 0h0m13 0h0m4 0h0m3 0h0m2 0h0m2 0h0m1 0h0m125 0h0m5 0h0m-261 1h0m2 0h0m1 0h0m1 0h0m1 0h0m55 0h0m2 0h0m8 0h0m31 0h0m6 0h0m13 0h0m2 0h0m3 0h0m1 0h0m1 0h0m7 0h0m62 0h0m57 0h0m2 0h0m-254 1h0m4 0h0m35 0h0m3 0h0m20 0h0m1 0h0m30 0h0m4 0h0m3 0h0m3 0h0m1 0h0m12 0h0m3 0h0m3 0h0m2 0h0m3 0h0m6 0h0m62 0h0m3 0h0m52 0h0m4 0h0m-254 1h0m41 0h0m8 0h0m2 0h0m3 0h0m4 0h0m1 0h0m4 0h0m2 0h0m36 0h0m22 0h0m1 0h0m3 0h0m70 0h0m57 0h0m5 0h0m1 0h0m-256 1h0m34 0h0m2 0h0m19 0h0m2 0h0m1 0h0m7 0h0m28 0h0m3 0h0m2 0h0m2 0h0m3 0h0m21 0h0m1 0h0m1 0h0m3 0h0m64 0h0m62 0h0m1 0h0m-256 1h0m36 0h0m1 0h0m19 0h0m4 0h0m1 0h0m33 0h0m4 0h0m3 0h0m24 0h0m4 0h0m122 0h0m-251 1h0m35 0h0m2 0h0m3 0h0m1 0h0m12 0h0m6 0h0m36 0h0m5 0h0m18 0h0m2 0h0m1 0h0m8 0h0m62 0h0m60 0h0m3 0h0m1 0h0m-255 1h0m1 0h0m36 0h0m1 0h0m52 0h0m1 0h0m3 0h0m2 0h0m4 0h0m18 0h0m3 0h0m128 0h0m1 0h0m-253 1h0m3 0h0m34 0h0m2 0h0m3 0h0m2 0h0m14 0h0m1 0h0m8 0h0m30 0h0m1 0h0m3 0h0m4 0h0m15 0h0m3 0h0m1 0h0m2 0h0m2 0h0m3 0h0m63 0h0m60 0h0m4 0h0m-258 1h0m3 0h0m33 0h0m3 0h0m15 0h0m3 0h0m1 0h0m2 0h0m8 0h0m28 0h0m1 0h0m3 0h0m5 0h0m2 0h0m13 0h0m1 0h0m4 0h0m1 0h0m4 0h0m64 0h0m64 0h0m-218 1h0m1 0h0m1 0h0m1 0h0m4 0h0m6 0h0m1 0h0m2 0h0m2 0h0m2 0h0m4 0h0m33 0h0m5 0h0m2 0h0m4 0h0m8 0h0m2 0h0m3 0h0m4 0h0m1 0h0m3 0h0m1 0h0m127 0h0m-256 1h0m35 0h0m6 0h0m3 0h0m6 0h0m4 0h0m1 0h0m1 0h0m3 0h0m1 0h0m34 0h0m9 0h0m4 0h0m1 0h0m9 0h0m1 0h0m1 0h0m8 0h0m3 0h0m123 0h0m3 0h0m-255 1h0m38 0h0m5 0h0m6 0h0m5 0h0m7 0h0m4 0h0m30 0h0m8 0h0m3 0h0m10 0h0m1 0h0m3 0h0m5 0h0m129 0h0m1 0h0m-1 36h0m-1 2h0m-255 1h0m1 0h0m254 1h0m-191 2h0m192 1h0m0 1h0m-4 2h0m-206 2h0m148 0h0m59 0h0m-187 1h0m50 0h0m80 0h0m58 0h0m-253 1h0m47 0h0m61 0h0m5 0h0m141 0h0m1 0h0m2 0h0m-258 1h0m42 0h0m5 0h0m9 0h0m3 0h0m5 0h0m42 0h0m2 0h0m6 0h0m2 0h0m5 0h0m4 0h0m70 0h0m58 0h0m-222 1h0m13 0h0m5 0h0m3 0h0m14 0h0m33 0h0m7 0h0m1 0h0m5 0h0m5 0h0m1 0h0m3 0h0m2 0h0m1 0h0m127 0h0m-250 1h0m36 0h0m3 0h0m1 0h0m8 0h0m6 0h0m9 0h0m1 0h0m1 0h0m1 0h0m42 0h0m2 0h0m1 0h0m3 0h0m1 0h0m1 0h0m6 0h0m4 0h0m66 0h0m2 0h0m1 0h0m1 0h0m54 0h0m1 0h0m2 0h0m4 0h0m-258 1h0m1 0h0m43 0h0m2 0h0m2 0h0m3 0h0m2 0h0m2 0h0m1 0h0m1 0h0m2 0h0m2 0h0m2 0h0m2 0h0m1 0h0m2 0h0m34 0h0m4 0h0m1 0h0m1 0h0m2 0h0m1 0h0m1 0h0m7 0h0m1 0h0m73 0h0m1 0h0m1 0h0m2 0h0m55 0h0m4 0h0m1 0h0m-220 1h0m2 0h0m5 0h0m3 0h0m1 0h0m2 0h0m3 0h0m4 0h0m2 0h0m1 0h0m1 0h0m3 0h0m1 0h0m1 0h0m1 0h0m1 0h0m34 0h0m2 0h0m5 0h0m2 0h0m1 0h0m1 0h0m1 0h0m1 0h0m2 0h0m1 0h0m2 0h0m1 0h0m2 0h0m3 0h0m1 0h0m67 0h0m2 0h0m1 0h0m1 0h0m53 0h0m6 0h0m-255 1h0m1 0h0m35 0h0m7 0h0m1 0h0m1 0h0m2 0h0m2 0h0m3 0h0m2 0h0m1 0h0m1 0h0m1 0h0m1 0h0m1 0h0m37 0h0m8 0h0m3 0h0m1 0h0m3 0h0m6 0h0m3 0h0m1 0h0m7 0h0m67 0h0m1 0h0m60 0h0m-216 1h0m4 0h0m2 0h0m2 0h0m1 0h0m7 0h0m2 0h0m2 0h0m2 0h0m38 0h0m5 0h0m1 0h0m2 0h0m2 0h0m5 0h0m2 0h0m1 0h0m1 0h0m1 0h0m1 0h0m1 0h0m5 0h0m2 0h0m1 0h0m61 0h0m57 0h0m-251 1h0m34 0h0m7 0h0m1 0h0m5 0h0m11 0h0m1 0h0m2 0h0m1 0h0m1 0h0m42 0h0m1 0h0m1 0h0m2 0h0m2 0h0m11 0h0m2 0h0m128 0h0m-252 1h0m35 0h0m1 0h0m5 0h0m2 0h0m1 0h0m1 0h0m1 0h0m2 0h0m1 0h0m12 0h0m1 0h0m7 0h0m27 0h0m1 0h0m8 0h0m1 0h0m18 0h0m1 0h0m2 0h0m70 0h0m1 0h0m53 0h0m8 0h0m1 0h0m-260 1h0m1 0h0m3 0h0m34 0h0m1 0h0m2 0h0m3 0h0m1 0h0m17 0h0m6 0h0m25 0h0m5 0h0m3 0h0m3 0h0m1 0h0m1 0h0m2 0h0m4 0h0m7 0h0m4 0h0m2 0h0m4 0h0m64 0h0m5 0h0m52 0h0m-246 1h0m37 0h0m20 0h0m1 0h0m1 0h0m2 0h0m29 0h0m8 0h0m18 0h0m1 0h0m4 0h0m5 0h0m2 0h0m61 0h0m1 0h0m55 0h0m10 0h0m-225 1h0m7 0h0m9 0h0m12 0h0m1 0h0m30 0h0m5 0h0m2 0h0m7 0h0m24 0h0m129 0h0m1 0h0m-257 1h0m37 0h0m1 0h0m2 0h0m13 0h0m3 0h0m1 0h0m1 0h0m1 0h0m3 0h0m3 0h0m25 0h0m2 0h0m4 0h0m4 0h0m2 0h0m18 0h0m3 0h0m3 0h0m1 0h0m1 0h0m2 0h0m64 0h0m61 0h0m1 0h0m-256 1h0m33 0h0m27 0h0m27 0h0m7 0h0m1 0h0m1 0h0m2 0h0m1 0h0m6 0h0m4 0h0m15 0h0m3 0h0m1 0h0m1 0h0m65 0h0m54 0h0m-248 1h0m30 0h0m5 0h0m2 0h0m1 0h0m22 0h0m39 0h0m8 0h0m1 0h0m10 0h0m3 0h0m2 0h0m2 0h0m1 0h0m1 0h0m1 0h0m119 0h0m8 0h0m-227 1h0m8 0h0m5 0h0m15 0h0m1 0h0m1 0h0m1 0h0m1 0h0m1 0h0m2 0h0m24 0h0m6 0h0m5 0h0m2 0h0m3 0h0m1 0h0m2 0h0m14 0h0m1 0h0m3 0h0m123 0h0m9 0h0m-257 1h0m35 0h0m7 0h0m2 0h0m15 0h0m1 0h0m1 0h0m38 0h0m1 0h0m8 0h0m2 0h0m11 0h0m2 0h0m1 0h0m3 0h0m68 0h0m53 0h0m3 0h0m-254 1h0m4 0h0m34 0h0m4 0h0m20 0h0m3 0h0m57 0h0m3 0h0m6 0h0m1 0h0m63 0h0m2 0h0m1 0h0m54 0h0m1 0h0m-211 1h0m1 0h0m1 0h0m16 0h0m1 0h0m41 0h0m2 0h0m2 0h0m2 0h0m15 0h0m6 0h0m1 0h0m1 0h0m1 0h0m66 0h0m54 0h0m3 0h0m-251 1h0m27 0h0m4 0h0m3 0h0m1 0h0m4 0h0m3 0h0m11 0h0m5 0h0m4 0h0m2 0h0m25 0h0m7 0h0m5 0h0m2 0h0m3 0h0m3 0h0m11 0h0m1 0h0m1 0h0m2 0h0m132 0h0m-260 1h0m28 0h0m16 0h0m2 0h0m3 0h0m5 0h0m1 0h0m1 0h0m1 0h0m6 0h0m3 0h0m1 0h0m28 0h0m3 0h0m7 0h0m1 0h0m2 0h0m2 0h0m3 0h0m2 0h0m4 0h0m3 0h0m1 0h0m4 0h0m67 0h0m2 0h0m56 0h0m3 0h0m3 0h0m1 0h0m-258 1h0m2 0h0m38 0h0m9 0h0m1 0h0m4 0h0m6 0h0m6 0h0m43 0h0m3 0h0m11 0h0m133 0h0m1 0h0" stroke="rgb(53,53,53)" stroke-width="1" stroke-linecap="square" fill="none"/><path d="M372 425h0m-152 10h0m3 1h0m2 0h0m-63 1h0m1 0h0m7 0h0m2 0h0m9 0h0m37 0h0m2 0h0m9 0h0m2 0h0m-79 1h0m14 0h0m1 0h0m5 0h0m8 0h0m1 0h0m31 0h0m8 0h0m10 0h0m1 0h0m3 0h0m136 0h0m1 0h0m1 0h0m-218 1h0m69 0h0m2 0h0m2 0h0m2 0h0m140 0h0m3 0h0m-255 1h0m40 0h0m4 0h0m1 0h0m2 0h0m3 0h0m13 0h0m1 0h0m39 0h0m5 0h0m1 0h0m2 0h0m1 0h0m1 0h0m4 0h0m10 0h0m125 0h0m1 0h0m1 0h0m-214 1h0m1 0h0m1 0h0m1 0h0m1 0h0m1 0h0m3 0h0m1 0h0m1 0h0m1 0h0m1 0h0m11 0h0m1 0h0m45 0h0m4 0h0m1 0h0m3 0h0m1 0h0m1 0h0m134 0h0m1 0h0m2 0h0m-222 1h0m2 0h0m1 0h0m4 0h0m1 0h0m2 0h0m1 0h0m1 0h0m2 0h0m2 0h0m3 0h0m4 0h0m6 0h0m1 0h0m1 0h0m22 0h0m9 0h0m2 0h0m5 0h0m1 0h0m3 0h0m1 0h0m3 0h0m1 0h0m1 0h0m5 0h0m3 0h0m7 0h0m1 0h0m124 0h0m1 0h0m1 0h0m-213 1h0m1 0h0m1 0h0m2 0h0m1 0h0m1 0h0m1 0h0m1 0h0m1 0h0m3 0h0m7 0h0m2 0h0m1 0h0m35 0h0m4 0h0m2 0h0m1 0h0m1 0h0m1 0h0m1 0h0m1 0h0m1 0h0m1 0h0m2 0h0m1 0h0m1 0h0m2 0h0m2 0h0m4 0h0m3 0h0m1 0h0m125 0h0m1 0h0m1 0h0m-215 1h0m1 0h0m2 0h0m1 0h0m1 0h0m1 0h0m1 0h0m1 0h0m1 0h0m1 0h0m3 0h0m1 0h0m1 0h0m1 0h0m2 0h0m4 0h0m1 0h0m1 0h0m1 0h0m34 0h0m1 0h0m1 0h0m3 0h0m1 0h0m1 0h0m1 0h0m1 0h0m1 0h0m2 0h0m1 0h0m1 0h0m1 0h0m1 0h0m1 0h0m1 0h0m2 0h0m8 0h0m1 0h0m66 0h0m59 0h0m1 0h0m1 0h0m-256 1h0m1 0h0m35 0h0m1 0h0m1 0h0m3 0h0m1 0h0m1 0h0m1 0h0m1 0h0m1 0h0m1 0h0m1 0h0m1 0h0m1 0h0m1 0h0m1 0h0m1 0h0m2 0h0m1 0h0m7 0h0m1 0h0m1 0h0m1 0h0m34 0h0m1 0h0m1 0h0m2 0h0m1 0h0m1 0h0m1 0h0m1 0h0m1 0h0m1 0h0m1 0h0m1 0h0m1 0h0m1 0h0m1 0h0m2 0h0m1 0h0m1 0h0m2 0h0m8 0h0m1 0h0m63 0h0m1 0h0m1 0h0m59 0h0m1 0h0m1 0h0m1 0h0m-216 1h0m1 0h0m1 0h0m1 0h0m1 0h0m1 0h0m1 0h0m1 0h0m1 0h0m1 0h0m1 0h0m1 0h0m1 0h0m1 0h0m1 0h0m1 0h0m2 0h0m5 0h0m1 0h0m1 0h0m1 0h0m31 0h0m3 0h0m1 0h0m1 0h0m1 0h0m2 0h0m1 0h0m1 0h0m1 0h0m1 0h0m1 0h0m1 0h0m1 0h0m1 0h0m1 0h0m1 0h0m1 0h0m2 0h0m2 0h0m1 0h0m4 0h0m3 0h0m1 0h0m1 0h0m64 0h0m1 0h0m58 0h0m1 0h0m1 0h0m1 0h0m1 0h0m-258 1h0m1 0h0m35 0h0m1 0h0m2 0h0m1 0h0m2 0h0m1 0h0m1 0h0m1 0h0m1 0h0m1 0h0m1 0h0m1 0h0m1 0h0m1 0h0m1 0h0m1 0h0m1 0h0m1 0h0m1 0h0m1 0h0m2 0h0m1 0h0m4 0h0m1 0h0m1 0h0m1 0h0m33 0h0m1 0h0m3 0h0m1 0h0m1 0h0m1 0h0m1 0h0m1 0h0m1 0h0m1 0h0m1 0h0m1 0h0m1 0h0m2 0h0m1 0h0m2 0h0m1 0h0m2 0h0m2 0h0m5 0h0m1 0h0m1 0h0m64 0h0m60 0h0m1 0h0m1 0h0m1 0h0m-258 1h0m2 0h0m1 0h0m38 0h0m1 0h0m1 0h0m1 0h0m1 0h0m1 0h0m1 0h0m2 0h0m2 0h0m1 0h0m2 0h0m1 0h0m1 0h0m9 0h0m1 0h0m1 0h0m34 0h0m1 0h0m1 0h0m1 0h0m1 0h0m1 0h0m1 0h0m1 0h0m1 0h0m1 0h0m1 0h0m1 0h0m1 0h0m1 0h0m1 0h0m1 0h0m1 0h0m1 0h0m1 0h0m1 0h0m1 0h0m3 0h0m1 0h0m3 0h0m2 0h0m1 0h0m63 0h0m1 0h0m59 0h0m1 0h0m1 0h0m1 0h0m-257 1h0m1 0h0m1 0h0m39 0h0m1 0h0m1 0h0m1 0h0m1 0h0m1 0h0m1 0h0m1 0h0m1 0h0m1 0h0m1 0h0m1 0h0m1 0h0m1 0h0m1 0h0m1 0h0m1 0h0m2 0h0m3 0h0m2 0h0m1 0h0m1 0h0m1 0h0m27 0h0m3 0h0m5 0h0m2 0h0m1 0h0m2 0h0m1 0h0m1 0h0m1 0h0m1 0h0m1 0h0m1 0h0m1 0h0m1 0h0m1 0h0m1 0h0m1 0h0m1 0h0m1 0h0m1 0h0m1 0h0m1 0h0m7 0h0m1 0h0m64 0h0m58 0h0m1 0h0m1 0h0m1 0h0m1 0h0m-257 1h0m1 0h0m1 0h0m35 0h0m4 0h0m1 0h0m1 0h0m1 0h0m1 0h0m1 0h0m1 0h0m1 0h0m1 0h0m1 0h0m1 0h0m1 0h0m1 0h0m1 0h0m1 0h0m1 0h0m1 0h0m8 0h0m1 0h0m1 0h0m29 0h0m4 0h0m2 0h0m1 0h0m2 0h0m1 0h0m1 0h0m1 0h0m1 0h0m1 0h0m1 0h0m1 0h0m1 0h0m1 0h0m1 0h0m1 0h0m1 0h0m1 0h0m1 0h0m1 0h0m1 0h0m1 0h0m1 0h0m3 0h0m3 0h0m1 0h0m1 0h0m63 0h0m1 0h0m58 0h0m2 0h0m1 0h0m1 0h0m1 0h0m-258 1h0m1 0h0m1 0h0m39 0h0m1 0h0m3 0h0m1 0h0m1 0h0m1 0h0m1 0h0m1 0h0m1 0h0m1 0h0m1 0h0m1 0h0m1 0h0m2 0h0m1 0h0m2 0h0m4 0h0m1 0h0m1 0h0m1 0h0m34 0h0m1 0h0m2 0h0m1 0h0m1 0h0m1 0h0m1 0h0m1 0h0m1 0h0m1 0h0m1 0h0m1 0h0m1 0h0m1 0h0m1 0h0m1 0h0m1 0h0m1 0h0m1 0h0m6 0h0m3 0h0m1 0h0m1 0h0m64 0h0m60 0h0m1 0h0m-255 1h0m1 0h0m37 0h0m3 0h0m1 0h0m1 0h0m1 0h0m1 0h0m1 0h0m1 0h0m1 0h0m1 0h0m1 0h0m1 0h0m1 0h0m1 0h0m1 0h0m1 0h0m1 0h0m3 0h0m4 0h0m1 0h0m1 0h0m1 0h0m31 0h0m2 0h0m2 0h0m2 0h0m1 0h0m1 0h0m1 0h0m1 0h0m1 0h0m1 0h0m1 0h0m1 0h0m1 0h0m1 0h0m1 0h0m1 0h0m1 0h0m1 0h0m1 0h0m1 0h0m2 0h0m1 0h0m3 0h0m1 0h0m2 0h0m1 0h0m1 0h0m1 0h0m62 0h0m60 0h0m1 0h0m1 0h0m1 0h0m1 0h0m-257 1h0m1 0h0m43 0h0m1 0h0m1 0h0m1 0h0m1 0h0m1 0h0m1 0h0m1 0h0m1 0h0m1 0h0m1 0h0m2 0h0m5 0h0m2 0h0m1 0h0m1 0h0m36 0h0m2 0h0m2 0h0m1 0h0m1 0h0m1 0h0m1 0h0m1 0h0m1 0h0m1 0h0m1 0h0m2 0h0m1 0h0m1 0h0m1 0h0m2 0h0m1 0h0m3 0h0m5 0h0m2 0h0m123 0h0m1 0h0m1 0h0m-256 1h0m1 0h0m35 0h0m1 0h0m3 0h0m1 0h0m1 0h0m1 0h0m1 0h0m1 0h0m1 0h0m1 0h0m1 0h0m1 0h0m1 0h0m1 0h0m1 0h0m2 0h0m1 0h0m8 0h0m1 0h0m1 0h0m1 0h0m31 0h0m1 0h0m4 0h0m1 0h0m2 0h0m2 0h0m1 0h0m1 0h0m1 0h0m1 0h0m1 0h0m1 0h0m1 0h0m1 0h0m1 0h0m1 0h0m1 0h0m10 0h0m2 0h0m64 0h0m59 0h0m1 0h0m1 0h0m1 0h0m-256 1h0m1 0h0m42 0h0m1 0h0m1 0h0m2 0h0m1 0h0m1 0h0m1 0h0m1 0h0m3 0h0m2 0h0m8 0h0m1 0h0m1 0h0m36 0h0m2 0h0m1 0h0m1 0h0m2 0h0m1 0h0m1 0h0m1 0h0m1 0h0m1 0h0m3 0h0m2 0h0m1 0h0m7 0h0m4 0h0m1 0h0m63 0h0m59 0h0m1 0h0m1 0h0m-254 1h0m37 0h0m4 0h0m1 0h0m2 0h0m1 0h0m1 0h0m1 0h0m1 0h0m3 0h0m1 0h0m10 0h0m1 0h0m1 0h0m1 0h0m33 0h0m1 0h0m2 0h0m3 0h0m1 0h0m3 0h0m1 0h0m2 0h0m1 0h0m1 0h0m1 0h0m1 0h0m4 0h0m1 0h0m7 0h0m1 0h0m66 0h0m60 0h0m-214 1h0m1 0h0m3 0h0m1 0h0m1 0h0m1 0h0m1 0h0m2 0h0m2 0h0m1 0h0m3 0h0m7 0h0m1 0h0m34 0h0m2 0h0m1 0h0m1 0h0m2 0h0m3 0h0m1 0h0m1 0h0m1 0h0m1 0h0m1 0h0m1 0h0m1 0h0m1 0h0m6 0h0m-123 40h0m257 0h0m0 2h0m-3 1h0m-60 7h0m60 0h0m-189 1h0m187 0h0m4 0h0m-202 1h0m140 0h0m1 0h0m58 0h0m1 0h0m1 0h0m1 0h0m-256 1h0m52 0h0m1 0h0m52 0h0m89 0h0m59 0h0m2 0h0m1 0h0m-213 1h0m9 0h0m12 0h0m33 0h0m18 0h0m2 0h0m136 0h0m1 0h0m1 0h0m3 0h0m-258 1h0m1 0h0m1 0h0m49 0h0m1 0h0m4 0h0m60 0h0m3 0h0m76 0h0m57 0h0m1 0h0m1 0h0m1 0h0m1 0h0m2 0h0m-259 1h0m1 0h0m1 0h0m51 0h0m1 0h0m12 0h0m1 0h0m1 0h0m33 0h0m1 0h0m3 0h0m7 0h0m5 0h0m1 0h0m7 0h0m69 0h0m1 0h0m1 0h0m1 0h0m54 0h0m1 0h0m1 0h0m1 0h0m1 0h0m1 0h0m1 0h0m1 0h0m-257 1h0m1 0h0m1 0h0m39 0h0m4 0h0m2 0h0m2 0h0m3 0h0m1 0h0m1 0h0m1 0h0m1 0h0m1 0h0m2 0h0m2 0h0m4 0h0m1 0h0m1 0h0m33 0h0m1 0h0m3 0h0m1 0h0m4 0h0m4 0h0m1 0h0m1 0h0m3 0h0m7 0h0m1 0h0m1 0h0m67 0h0m1 0h0m1 0h0m55 0h0m1 0h0m1 0h0m1 0h0m1 0h0m1 0h0m1 0h0m-257 1h0m1 0h0m1 0h0m37 0h0m4 0h0m1 0h0m1 0h0m2 0h0m1 0h0m1 0h0m1 0h0m1 0h0m1 0h0m1 0h0m1 0h0m1 0h0m1 0h0m3 0h0m5 0h0m1 0h0m1 0h0m1 0h0m32 0h0m3 0h0m1 0h0m4 0h0m2 0h0m2 0h0m1 0h0m1 0h0m1 0h0m1 0h0m1 0h0m1 0h0m1 0h0m1 0h0m1 0h0m4 0h0m3 0h0m66 0h0m1 0h0m1 0h0m1 0h0m56 0h0m1 0h0m1 0h0m1 0h0m1 0h0m1 0h0m1 0h0m-258 1h0m1 0h0m1 0h0m39 0h0m5 0h0m3 0h0m1 0h0m1 0h0m1 0h0m1 0h0m1 0h0m1 0h0m1 0h0m1 0h0m1 0h0m6 0h0m1 0h0m1 0h0m1 0h0m32 0h0m4 0h0m3 0h0m1 0h0m1 0h0m1 0h0m1 0h0m1 0h0m1 0h0m1 0h0m1 0h0m1 0h0m2 0h0m1 0h0m2 0h0m2 0h0m3 0h0m68 0h0m1 0h0m1 0h0m57 0h0m1 0h0m1 0h0m1 0h0m1 0h0m1 0h0m-256 1h0m1 0h0m39 0h0m5 0h0m1 0h0m1 0h0m1 0h0m1 0h0m1 0h0m1 0h0m1 0h0m1 0h0m1 0h0m1 0h0m1 0h0m2 0h0m1 0h0m4 0h0m1 0h0m1 0h0m35 0h0m1 0h0m6 0h0m1 0h0m1 0h0m2 0h0m1 0h0m1 0h0m1 0h0m1 0h0m1 0h0m2 0h0m1 0h0m1 0h0m2 0h0m3 0h0m68 0h0m1 0h0m1 0h0m55 0h0m1 0h0m1 0h0m1 0h0m1 0h0m1 0h0m1 0h0m1 0h0m-259 1h0m1 0h0m1 0h0m1 0h0m39 0h0m1 0h0m1 0h0m1 0h0m1 0h0m1 0h0m1 0h0m1 0h0m1 0h0m1 0h0m1 0h0m1 0h0m1 0h0m1 0h0m1 0h0m1 0h0m1 0h0m1 0h0m1 0h0m4 0h0m2 0h0m1 0h0m1 0h0m32 0h0m4 0h0m2 0h0m1 0h0m1 0h0m1 0h0m1 0h0m1 0h0m1 0h0m1 0h0m1 0h0m1 0h0m1 0h0m1 0h0m1 0h0m1 0h0m3 0h0m1 0h0m1 0h0m2 0h0m3 0h0m66 0h0m1 0h0m1 0h0m1 0h0m55 0h0m1 0h0m1 0h0m1 0h0m1 0h0m1 0h0m-258 1h0m1 0h0m1 0h0m1 0h0m1 0h0m34 0h0m4 0h0m1 0h0m1 0h0m1 0h0m1 0h0m1 0h0m1 0h0m1 0h0m2 0h0m1 0h0m1 0h0m1 0h0m1 0h0m1 0h0m1 0h0m1 0h0m1 0h0m1 0h0m5 0h0m1 0h0m1 0h0m1 0h0m35 0h0m1 0h0m2 0h0m2 0h0m1 0h0m1 0h0m1 0h0m1 0h0m1 0h0m1 0h0m1 0h0m1 0h0m1 0h0m1 0h0m1 0h0m1 0h0m1 0h0m1 0h0m1 0h0m1 0h0m1 0h0m2 0h0m1 0h0m1 0h0m65 0h0m1 0h0m1 0h0m1 0h0m1 0h0m52 0h0m1 0h0m1 0h0m1 0h0m1 0h0m1 0h0m1 0h0m1 0h0m1 0h0m1 0h0m-259 1h0m1 0h0m1 0h0m1 0h0m36 0h0m4 0h0m2 0h0m1 0h0m1 0h0m1 0h0m1 0h0m1 0h0m1 0h0m1 0h0m1 0h0m1 0h0m1 0h0m1 0h0m2 0h0m1 0h0m6 0h0m2 0h0m1 0h0m33 0h0m1 0h0m3 0h0m2 0h0m1 0h0m1 0h0m1 0h0m1 0h0m1 0h0m1 0h0m1 0h0m1 0h0m1 0h0m1 0h0m1 0h0m1 0h0m1 0h0m1 0h0m1 0h0m1 0h0m2 0h0m1 0h0m2 0h0m66 0h0m1 0h0m1 0h0m1 0h0m2 0h0m53 0h0m1 0h0m1 0h0m1 0h0m1 0h0m1 0h0m1 0h0m-258 1h0m1 0h0m1 0h0m1 0h0m39 0h0m1 0h0m1 0h0m1 0h0m1 0h0m1 0h0m1 0h0m1 0h0m1 0h0m1 0h0m1 0h0m1 0h0m1 0h0m1 0h0m1 0h0m1 0h0m1 0h0m1 0h0m1 0h0m2 0h0m1 0h0m2 0h0m1 0h0m1 0h0m1 0h0m36 0h0m2 0h0m1 0h0m3 0h0m1 0h0m1 0h0m2 0h0m1 0h0m1 0h0m1 0h0m1 0h0m1 0h0m1 0h0m1 0h0m1 0h0m1 0h0m1 0h0m1 0h0m2 0h0m2 0h0m65 0h0m1 0h0m1 0h0m1 0h0m54 0h0m2 0h0m1 0h0m1 0h0m1 0h0m1 0h0m1 0h0m-258 1h0m1 0h0m1 0h0m1 0h0m35 0h0m5 0h0m1 0h0m1 0h0m1 0h0m1 0h0m1 0h0m1 0h0m1 0h0m1 0h0m1 0h0m1 0h0m1 0h0m1 0h0m1 0h0m1 0h0m1 0h0m1 0h0m2 0h0m1 0h0m3 0h0m1 0h0m1 0h0m1 0h0m23 0h0m14 0h0m2 0h0m1 0h0m1 0h0m1 0h0m3 0h0m1 0h0m1 0h0m1 0h0m1 0h0m1 0h0m1 0h0m1 0h0m1 0h0m2 0h0m1 0h0m2 0h0m2 0h0m5 0h0m61 0h0m1 0h0m1 0h0m1 0h0m1 0h0m55 0h0m1 0h0m1 0h0m1 0h0m1 0h0m1 0h0m-257 1h0m1 0h0m1 0h0m1 0h0m35 0h0m2 0h0m1 0h0m4 0h0m1 0h0m1 0h0m1 0h0m1 0h0m1 0h0m1 0h0m1 0h0m1 0h0m1 0h0m1 0h0m1 0h0m1 0h0m1 0h0m7 0h0m2 0h0m37 0h0m1 0h0m3 0h0m2 0h0m1 0h0m1 0h0m1 0h0m1 0h0m1 0h0m1 0h0m1 0h0m1 0h0m1 0h0m1 0h0m1 0h0m1 0h0m3 0h0m1 0h0m2 0h0m4 0h0m61 0h0m1 0h0m1 0h0m1 0h0m1 0h0m52 0h0m3 0h0m1 0h0m1 0h0m1 0h0m1 0h0m1 0h0m-257 1h0m1 0h0m39 0h0m2 0h0m1 0h0m2 0h0m2 0h0m1 0h0m1 0h0m1 0h0m1 0h0m1 0h0m1 0h0m1 0h0m1 0h0m1 0h0m1 0h0m1 0h0m1 0h0m1 0h0m5 0h0m1 0h0m1 0h0m31 0h0m7 0h0m1 0h0m1 0h0m1 0h0m1 0h0m2 0h0m2 0h0m1 0h0m1 0h0m1 0h0m1 0h0m1 0h0m1 0h0m1 0h0m1 0h0m1 0h0m2 0h0m3 0h0m1 0h0m66 0h0m1 0h0m1 0h0m55 0h0m1 0h0m2 0h0m1 0h0m1 0h0m1 0h0m2 0h0m-259 1h0m1 0h0m1 0h0m34 0h0m2 0h0m2 0h0m2 0h0m2 0h0m1 0h0m1 0h0m1 0h0m1 0h0m1 0h0m1 0h0m1 0h0m1 0h0m1 0h0m1 0h0m1 0h0m1 0h0m1 0h0m1 0h0m1 0h0m1 0h0m2 0h0m1 0h0m2 0h0m1 0h0m1 0h0m30 0h0m5 0h0m1 0h0m2 0h0m1 0h0m2 0h0m1 0h0m2 0h0m1 0h0m1 0h0m1 0h0m1 0h0m1 0h0m1 0h0m1 0h0m1 0h0m1 0h0m2 0h0m1 0h0m4 0h0m66 0h0m2 0h0m58 0h0m1 0h0m1 0h0m1 0h0m1 0h0m1 0h0m-258 1h0m1 0h0m1 0h0m38 0h0m4 0h0m1 0h0m1 0h0m1 0h0m1 0h0m1 0h0m1 0h0m1 0h0m1 0h0m1 0h0m1 0h0m1 0h0m1 0h0m1 0h0m1 0h0m3 0h0m3 0h0m1 0h0m1 0h0m1 0h0m37 0h0m2 0h0m2 0h0m1 0h0m1 0h0m1 0h0m1 0h0m1 0h0m1 0h0m1 0h0m1 0h0m1 0h0m1 0h0m1 0h0m1 0h0m1 0h0m2 0h0m2 0h0m1 0h0m1 0h0m66 0h0m1 0h0m1 0h0m1 0h0m56 0h0m1 0h0m2 0h0m1 0h0m1 0h0m-257 1h0m1 0h0m1 0h0m39 0h0m2 0h0m1 0h0m2 0h0m1 0h0m1 0h0m1 0h0m1 0h0m1 0h0m2 0h0m1 0h0m1 0h0m2 0h0m1 0h0m5 0h0m1 0h0m2 0h0m29 0h0m2 0h0m3 0h0m7 0h0m1 0h0m2 0h0m1 0h0m2 0h0m1 0h0m1 0h0m1 0h0m1 0h0m1 0h0m1 0h0m1 0h0m1 0h0m1 0h0m72 0h0m1 0h0m56 0h0m1 0h0m1 0h0m1 0h0m1 0h0m1 0h0m1 0h0m1 0h0m-258 1h0m2 0h0m39 0h0m5 0h0m3 0h0m1 0h0m1 0h0m1 0h0m5 0h0m1 0h0m1 0h0m4 0h0m4 0h0m41 0h0m2 0h0m1 0h0m2 0h0m2 0h0m1 0h0m1 0h0m2 0h0m1 0h0m5 0h0m127 0h0m1 0h0m2 0h0m1 0h0m-204 1h0m3 0h0m60 0h0" stroke="rgb(30,30,30)" stroke-width="1" stroke-linecap="square" fill="none"/></g>
<path d="M416 594h0m-4 6h0m2 -22h0m0 27h0m-7 -13h0m8 10h0m1 3h0m-1 -5h0m-2 -4h0m3 32h0m0 -15h0m0 -16h0m-3 -3h0m2 -12h0m2 15h0m-9 -22h0m6 10h0m-1 10h0m-1 2h0m4 -3h0m-1 10h0m-2 5h0m2 -7h0m1 -8h0m-3 16h0m0 -14h0m5 -8h0m-1 6h0m-2 9h0m0 6h0m-1 1h0m3 3h0m-3 -10h0m-1 -11h0m2 -9h0m3 20h0m-1 -22h0m-4 22h0m2 -7h0m-3 -2h0m4 9h0m2 0h0m-6 22h0m0 -47h0m0 20h0m-1 2h0m3 17h0m5 -38h0m-7 28h0m2 -19h0m2 -9h0m-5 26h0m3 -6h0m-1 -16h0m4 30h0m-4 1h0m1 -12h0m-2 -1h0m1 7h0m-1 -8h0m1 0h0m-3 25h0m6 -34h0m-4 17h0m1 -3h0m4 -15h0m-6 15h0m7 -4h0m-3 3h0m0 -21h0m5 2h0m-7 19h0m4 -8h0m-3 1h0m0 6h0m1 -9h0m-1 -8h0m-4 9h0m6 3h0m-4 -10h0m5 4h0m2 -4h0m-3 10h0m0 18h0m-3 -26h0m6 4h0m0 1h0m-3 21h0m-3 -20h0m1 10h0m-2 -6h0m2 5h0m1 9h0m-3 -16h0m5 -21h0m-4 18h0m1 12h0m4 0h0m-6 15h0m6 -36h0m-5 17h0m1 -7h0m4 4h0m-6 -24h0m6 21h0m-6 -3h0m2 1h0m2 -4h0m0 17h0m-3 -17h0m75 -2h0m2 16h0m1 8h0m2 -14h0m-4 -2h0m4 2h0m-2 2h0m-3 4h0m0 -30h0m4 34h0m2 -9h0m-6 -4h0m5 3h0m0 21h0m-4 -5h0m5 -18h0m-7 -8h0m2 18h0m3 -24h0m2 16h0m-3 15h0m-4 -11h0m0 -3h0m3 12h0m3 0h0m0 -9h0m-5 -20h0m3 19h0m2 0h0m-4 -6h0m2 -4h0m1 9h0m-2 -13h0m-5 1h0m5 4h0m-1 6h0m-1 -10h0m-1 2h0m5 33h0m-3 -19h0m0 -12h0m1 6h0m1 3h0m3 0h0m-5 -14h0m2 6h0m-3 -12h0m3 7h0m2 10h0m-1 3h0m-2 -3h0m1 24h0m0 -39h0m0 29h0m0 5h0m-1 -23h0m2 10h0m0 -8h0m-3 -19h0m-1 16h0m4 -6h0m-1 35h0m2 5h0m-2 -32h0m-2 -2h0m4 -3h0m0 3h0m-7 -13h0m2 18h0m-1 -2h0m0 31h0m4 -33h0m-5 4h0m5 3h0m4 19h0m-7 -33h0m1 9h0m1 -12h0m2 -2h0m-3 18h0m5 -15h0m-2 7h0m0 12h0m-1 -17h0m-1 16h0m0 -5h0m0 4h0m4 0h0m-3 0h0m-1 4h0m1 -11h0m-2 -1h0m3 -6h0m1 0h0m-5 21h0m4 -20h0m2 19h0m-5 -2h0m1 -20h0m-2 1h0m3 5h0m2 11h0m-1 -2h0m-4 3h0m2 -9h0m-1 -12h0m-4 0h0m3 9h0m2 3h0m-3 7h0m5 2h0m1 -20h0m-3 7h0m0 -14h0m-1 22h0m3 -6h0m-4 7h0m5 2h0m-5 -26h0m1 26h0m1 4h0m-2 -16h0m3 1h0m-3 1h0m5 7h0m-5 -10h0m3 20h0m-1 -20h0m1 9h0m-8 -5h0m9 9h0m2 -7h0m-2 -9h0m0 3h0m-5 19h0m0 14h0m5 -33h0m0 10h0m1 5h0m-3 -12h0m0 4h0m-1 -6h0m2 -5h0m-1 11h0m-1 7h0m1 -7h0m1 16h0m-3 -16h0m4 2h0m2 -8h0m-3 16h0m-3 -2h0m2 -12h0m2 -6h0m1 11h0m-1 -8h0m-5 5h0m1 -3h0m-2 19h0m5 -19h0m0 29h0m-1 -25h0m0 -8h0m2 29h0m-3 -16h0m1 4h0m2 -1h0m2 -3h0m-5 -9h0m-1 -9h0m0 6h0m6 6h0m-2 30h0m-3 -34h0m1 -11h0m2 30h0m-4 -28h0m0 15h0m2 15h0m-4 -2h0m-1 -14h0m5 -2h0m-3 8h0m4 -4h0m-2 -5h0m1 3h0m2 -10h0m-4 17h0m4 -20h0m-2 26h0m-2 -32h0m3 9h0m0 -9h0m-2 34h0m5 -30h0m-1 24h0m-1 -10h0m-2 19h0m-3 -27h0m6 3h0m-2 2h0m-2 1h0m4 13h0m1 0h0m-5 -18h0m1 4h0m1 15h0m1 -7h0m0 4h0m5 0h0m-7 19h0m-2 -26h0m1 -8h0m0 17h0m2 3h0m-2 -4h0m-1 -1h0m4 -14h0m-2 8h0m0 0h0m-2 22h0m2 -23h0m5 9h0m-6 -10h0m0 -3h0m4 1h0m-5 23h0m2 -23h0m1 0h0m0 -13h0m2 22h0m-1 20h0m-5 -30h0m2 5h0m-3 -5h0m4 12h0m-2 -1h0m2 10h0m-2 -17h0m0 -5h0m-1 2h0m2 -7h0m0 10h0m-1 -2h0m3 12h0m-4 -7h0m-1 -1h0m3 11h0m-2 -15h0m4 -7h0m-5 -2h0m2 4h0m4 -11h0m-2 1h0m2 11h0m1 19h0m-3 -20h0m3 0h0m-6 2h0m-1 14h0" stroke="#6a6a6a" stroke-opacity="0.75" stroke-width="1" stroke-linecap="square" fill="none" transform="translate(0.5 0.5)"/>
<text x="0.50" y="19.50" style="font-weight:bold;font-size:20px;">A</text>
<text transform="translate(30.00,77.20) rotate(-90)" text-anchor="middle" style="font-size:10.75px;">Frequency of tetramer+ CD8 T</text>
<text transform="translate(43.00,77.00) rotate(-90)" text-anchor="middle">cells / 10<tspan dy="-3" style="font-size:6.5px">3</tspan><tspan dy="3"> blood lymphocytes</tspan></text>
<text x="64.00" y="149.16" text-anchor="end">0</text>
<text x="64.00" y="122.36" text-anchor="end">20</text>
<text x="64.00" y="95.56" text-anchor="end">40</text>
<text x="64.00" y="68.76" text-anchor="end">60</text>
<text x="64.00" y="41.96" text-anchor="end">80</text>
<text x="64.00" y="15.16" text-anchor="end">100</text>
<line x1="66.60" y1="145.50" x2="68.60" y2="145.50" stroke="#888" stroke-width="1"/>
<line x1="66.60" y1="132.10" x2="68.60" y2="132.10" stroke="#888" stroke-width="1"/>
<line x1="66.60" y1="118.70" x2="68.60" y2="118.70" stroke="#888" stroke-width="1"/>
<line x1="66.60" y1="105.30" x2="68.60" y2="105.30" stroke="#888" stroke-width="1"/>
<line x1="66.60" y1="91.90" x2="68.60" y2="91.90" stroke="#888" stroke-width="1"/>
<line x1="66.60" y1="78.50" x2="68.60" y2="78.50" stroke="#888" stroke-width="1"/>
<line x1="66.60" y1="65.10" x2="68.60" y2="65.10" stroke="#888" stroke-width="1"/>
<line x1="66.60" y1="51.70" x2="68.60" y2="51.70" stroke="#888" stroke-width="1"/>
<line x1="66.60" y1="38.30" x2="68.60" y2="38.30" stroke="#888" stroke-width="1"/>
<line x1="66.60" y1="24.90" x2="68.60" y2="24.90" stroke="#888" stroke-width="1"/>
<line x1="66.60" y1="11.50" x2="68.60" y2="11.50" stroke="#888" stroke-width="1"/>
<rect x="85.00" y="55.80" width="63.00" height="89.70" fill="#b4b4b4"/>
<rect x="85.00" y="120.00" width="63.00" height="25.50" fill="#353535"/>
<line x1="116.70" y1="25.00" x2="116.70" y2="55.80" stroke="#000" stroke-width="2"/>
<line x1="115.20" y1="25.00" x2="118.20" y2="25.00" stroke="#000" stroke-width="1.5"/>
<line x1="116.70" y1="114.00" x2="116.70" y2="120.00" stroke="#000" stroke-width="2"/>
<line x1="114.90" y1="114.00" x2="118.50" y2="114.00" stroke="#000" stroke-width="1.5"/>
<rect x="180.20" y="65.40" width="62.80" height="80.10" fill="#b4b4b4"/>
<rect x="180.20" y="122.30" width="62.80" height="23.20" fill="#353535"/>
<line x1="211.50" y1="40.40" x2="211.50" y2="65.40" stroke="#000" stroke-width="2"/>
<line x1="210.00" y1="40.40" x2="213.00" y2="40.40" stroke="#000" stroke-width="1.5"/>
<line x1="211.50" y1="115.60" x2="211.50" y2="122.30" stroke="#000" stroke-width="2"/>
<line x1="209.70" y1="115.60" x2="213.30" y2="115.60" stroke="#000" stroke-width="1.5"/>
<line x1="68.60" y1="11.50" x2="68.60" y2="146.30" stroke="#000" stroke-width="2"/>
<line x1="67.60" y1="145.50" x2="259.00" y2="145.50" stroke="#000" stroke-width="2"/>
<rect x="79.20" y="10.60" width="10.60" height="9.00" fill="#b4b4b4"/>
<text x="93.55" y="18.56" style="font-size:10.03px;">np396-specific</text>
<rect x="173.80" y="10.60" width="10.20" height="9.00" fill="#353535"/>
<text x="189.40" y="18.55" style="font-size:9.99px;">gp33-specific</text>
<text x="104.59" y="157.76" style="font-weight:bold;font-size:10.33px;">cKO</text>
<text x="200.39" y="158.24" style="font-weight:bold;font-size:10.26px;">cHet</text>
<text x="267.40" y="20.00" style="font-weight:bold;font-size:20px;">B</text>
<rect x="353.30" y="14.30" width="14.70" height="131.20" fill="#b4b4b4"/>
<text transform="translate(364.30,44.90) rotate(-90)" text-anchor="middle">Tamoxifen</text>
<text transform="translate(299.60,78.20) rotate(-90)" text-anchor="middle" style="font-size:11.4px;">% YFP+ blood lymphocytes</text>
<text x="321.00" y="149.16" text-anchor="end">0</text>
<line x1="324.30" y1="145.50" x2="326.00" y2="145.50" stroke="#888" stroke-width="1"/>
<text x="321.00" y="127.06" text-anchor="end">10</text>
<line x1="324.30" y1="123.40" x2="326.00" y2="123.40" stroke="#888" stroke-width="1"/>
<text x="321.00" y="104.96" text-anchor="end">20</text>
<line x1="324.30" y1="101.30" x2="326.00" y2="101.30" stroke="#888" stroke-width="1"/>
<text x="321.00" y="82.86" text-anchor="end">30</text>
<line x1="324.30" y1="79.20" x2="326.00" y2="79.20" stroke="#888" stroke-width="1"/>
<text x="321.00" y="60.76" text-anchor="end">40</text>
<line x1="324.30" y1="57.10" x2="326.00" y2="57.10" stroke="#888" stroke-width="1"/>
<text x="321.00" y="38.66" text-anchor="end">50</text>
<line x1="324.30" y1="35.00" x2="326.00" y2="35.00" stroke="#888" stroke-width="1"/>
<text x="321.00" y="16.56" text-anchor="end">60</text>
<line x1="324.30" y1="12.90" x2="326.00" y2="12.90" stroke="#888" stroke-width="1"/>
<text x="326.70" y="157.66" text-anchor="middle">0</text>
<line x1="326.70" y1="145.50" x2="326.70" y2="147.50" stroke="#888" stroke-width="1"/>
<text x="353.50" y="157.66" text-anchor="middle">10</text>
<line x1="353.50" y1="145.50" x2="353.50" y2="147.50" stroke="#888" stroke-width="1"/>
<text x="380.30" y="157.66" text-anchor="middle">20</text>
<line x1="380.30" y1="145.50" x2="380.30" y2="147.50" stroke="#888" stroke-width="1"/>
<text x="407.10" y="157.66" text-anchor="middle">30</text>
<line x1="407.10" y1="145.50" x2="407.10" y2="147.50" stroke="#888" stroke-width="1"/>
<text x="433.90" y="157.66" text-anchor="middle">40</text>
<line x1="433.90" y1="145.50" x2="433.90" y2="147.50" stroke="#888" stroke-width="1"/>
<text x="460.70" y="157.66" text-anchor="middle">50</text>
<line x1="460.70" y1="145.50" x2="460.70" y2="147.50" stroke="#888" stroke-width="1"/>
<text x="487.50" y="157.66" text-anchor="middle">60</text>
<line x1="487.50" y1="145.50" x2="487.50" y2="147.50" stroke="#888" stroke-width="1"/>
<text x="345.84" y="168.41" style="font-size:10.75px;">Days post LCMV infection</text>
<line x1="380.30" y1="62.50" x2="380.30" y2="86.30" stroke="#b0b0b0" stroke-width="1"/>
<line x1="379.30" y1="62.50" x2="381.30" y2="62.50" stroke="#a8a8a8" stroke-width="0.8"/>
<line x1="407.10" y1="37.50" x2="407.10" y2="84.50" stroke="#b0b0b0" stroke-width="1"/>
<line x1="406.10" y1="37.50" x2="408.10" y2="37.50" stroke="#a8a8a8" stroke-width="0.8"/>
<line x1="433.90" y1="37.00" x2="433.90" y2="85.00" stroke="#b0b0b0" stroke-width="1"/>
<line x1="432.90" y1="37.00" x2="434.90" y2="37.00" stroke="#a8a8a8" stroke-width="0.8"/>
<line x1="460.70" y1="37.00" x2="460.70" y2="86.00" stroke="#b0b0b0" stroke-width="1"/>
<line x1="459.70" y1="37.00" x2="461.70" y2="37.00" stroke="#a8a8a8" stroke-width="0.8"/>
<line x1="487.50" y1="36.50" x2="487.50" y2="87.00" stroke="#b0b0b0" stroke-width="1"/>
<line x1="486.50" y1="36.50" x2="488.50" y2="36.50" stroke="#a8a8a8" stroke-width="0.8"/>
<polyline points="326.70,145.30 347.87,145.30 380.30,78.00 407.10,69.50 433.90,68.80 460.70,70.00 487.50,70.80" fill="none" stroke="#acacac" stroke-width="2.6" stroke-linejoin="round"/>
<circle cx="380.30" cy="78.00" r="1.6" fill="#acacac"/>
<circle cx="407.10" cy="69.50" r="1.6" fill="#acacac"/>
<circle cx="433.90" cy="68.80" r="1.6" fill="#acacac"/>
<circle cx="460.70" cy="70.00" r="1.6" fill="#acacac"/>
<circle cx="487.50" cy="70.80" r="1.6" fill="#acacac"/>
<polyline points="326.70,145.30 347.87,145.30 380.30,73.80 407.10,57.60 433.90,57.40 460.70,58.00 487.50,57.30" fill="none" stroke="#000" stroke-width="2.3" stroke-linejoin="round"/>
<circle cx="380.30" cy="73.80" r="2.3" fill="#000"/>
<circle cx="407.10" cy="57.60" r="2.3" fill="#000"/>
<circle cx="433.90" cy="57.40" r="2.3" fill="#000"/>
<circle cx="460.70" cy="58.00" r="2.3" fill="#000"/>
<circle cx="487.50" cy="57.30" r="2.3" fill="#000"/>
<circle cx="326.70" cy="145.30" r="1.8" fill="#000"/>
<circle cx="347.87" cy="145.30" r="1.8" fill="#000"/>
<line x1="326.30" y1="11.80" x2="326.30" y2="146.30" stroke="#000" stroke-width="2"/>
<line x1="325.50" y1="145.50" x2="488.50" y2="145.50" stroke="#000" stroke-width="2"/>
<line x1="448.20" y1="112.00" x2="454.90" y2="112.00" stroke="#acacac" stroke-width="1.8"/>
<path d="M451.5 110 L453.5 112 L451.5 114 L449.5 112Z" fill="#acacac"/>
<text x="457.57" y="115.47" style="font-size:10.78px;">cKO</text>
<line x1="448.00" y1="125.20" x2="455.00" y2="125.20" stroke="#000" stroke-width="2"/>
<ellipse cx="451.5" cy="125.2" rx="2.7" ry="1.9" fill="#000"/>
<text x="457.59" y="128.56" style="font-size:10.32px;">cHet</text>
<text x="0.50" y="193.50" style="font-weight:bold;font-size:20px;">C</text>
<text transform="translate(31.20,254.00) rotate(-90)" text-anchor="middle">Frequency of gp33-specific CD8</text>
<text transform="translate(44.70,253.80) rotate(-90)" text-anchor="middle">/ 10<tspan dy="-3" style="font-size:6.5px">3</tspan><tspan dy="3"> YFP+ blood lymphocytes</tspan></text>
<text x="64.50" y="325.96" text-anchor="end">0</text>
<line x1="69.00" y1="322.30" x2="70.70" y2="322.30" stroke="#888" stroke-width="1"/>
<text x="64.50" y="292.76" text-anchor="end">5</text>
<line x1="69.00" y1="289.10" x2="70.70" y2="289.10" stroke="#888" stroke-width="1"/>
<text x="64.50" y="259.56" text-anchor="end">10</text>
<line x1="69.00" y1="255.90" x2="70.70" y2="255.90" stroke="#888" stroke-width="1"/>
<text x="64.50" y="226.36" text-anchor="end">15</text>
<line x1="69.00" y1="222.70" x2="70.70" y2="222.70" stroke="#888" stroke-width="1"/>
<text x="64.50" y="193.16" text-anchor="end">20</text>
<line x1="69.00" y1="189.50" x2="70.70" y2="189.50" stroke="#888" stroke-width="1"/>
<text x="71.60" y="336.16" text-anchor="middle">0</text>
<line x1="71.60" y1="322.30" x2="71.60" y2="324.30" stroke="#888" stroke-width="1"/>
<text x="99.40" y="336.16" text-anchor="middle">10</text>
<line x1="99.40" y1="322.30" x2="99.40" y2="324.30" stroke="#888" stroke-width="1"/>
<text x="127.20" y="336.16" text-anchor="middle">20</text>
<line x1="127.20" y1="322.30" x2="127.20" y2="324.30" stroke="#888" stroke-width="1"/>
<text x="155.00" y="336.16" text-anchor="middle">30</text>
<line x1="155.00" y1="322.30" x2="155.00" y2="324.30" stroke="#888" stroke-width="1"/>
<text x="182.80" y="336.16" text-anchor="middle">40</text>
<line x1="182.80" y1="322.30" x2="182.80" y2="324.30" stroke="#888" stroke-width="1"/>
<text x="210.60" y="336.16" text-anchor="middle">50</text>
<line x1="210.60" y1="322.30" x2="210.60" y2="324.30" stroke="#888" stroke-width="1"/>
<text x="238.40" y="336.16" text-anchor="middle">60</text>
<line x1="238.40" y1="322.30" x2="238.40" y2="324.30" stroke="#888" stroke-width="1"/>
<text x="95.05" y="350.88" style="font-size:10.67px;">Days post LCMV infection</text>
<polyline points="93.00,191.50 126.75,279.50 155.00,290.50 183.00,285.50 211.30,294.40 239.40,284.00" fill="none" stroke="#acacac" stroke-width="2.2" stroke-linejoin="round" stroke-linecap="round"/>
<polyline points="93.00,203.20 126.75,278.80 155.00,287.00 183.00,285.00 211.30,291.50 239.40,290.40" fill="none" stroke="#000" stroke-width="2.6" stroke-linejoin="round"/>
<line x1="126.75" y1="259.50" x2="126.75" y2="298.00" stroke="#000" stroke-width="1.6"/>
<line x1="125.25" y1="259.50" x2="128.25" y2="259.50" stroke="#000" stroke-width="1.4"/>
<line x1="125.25" y1="298.00" x2="128.25" y2="298.00" stroke="#000" stroke-width="1.4"/>
<line x1="155.00" y1="273.80" x2="155.00" y2="303.00" stroke="#000" stroke-width="1.6"/>
<line x1="153.50" y1="273.80" x2="156.50" y2="273.80" stroke="#000" stroke-width="1.4"/>
<line x1="153.50" y1="303.00" x2="156.50" y2="303.00" stroke="#000" stroke-width="1.4"/>
<line x1="183.00" y1="273.00" x2="183.00" y2="298.00" stroke="#000" stroke-width="1.6"/>
<line x1="181.50" y1="273.00" x2="184.50" y2="273.00" stroke="#000" stroke-width="1.4"/>
<line x1="181.50" y1="298.00" x2="184.50" y2="298.00" stroke="#000" stroke-width="1.4"/>
<line x1="211.30" y1="280.60" x2="211.30" y2="305.10" stroke="#000" stroke-width="1.6"/>
<line x1="209.80" y1="280.60" x2="212.80" y2="280.60" stroke="#000" stroke-width="1.4"/>
<line x1="209.80" y1="305.10" x2="212.80" y2="305.10" stroke="#000" stroke-width="1.4"/>
<line x1="239.40" y1="264.40" x2="239.40" y2="304.80" stroke="#000" stroke-width="1.6"/>
<line x1="237.90" y1="264.40" x2="240.90" y2="264.40" stroke="#000" stroke-width="1.4"/>
<line x1="237.90" y1="304.80" x2="240.90" y2="304.80" stroke="#000" stroke-width="1.4"/>
<circle cx="126.75" cy="278.80" r="2.3" fill="#000"/>
<circle cx="155.00" cy="287.00" r="2.3" fill="#000"/>
<circle cx="183.00" cy="285.00" r="2.3" fill="#000"/>
<circle cx="211.30" cy="291.50" r="2.3" fill="#000"/>
<circle cx="239.40" cy="290.40" r="2.3" fill="#000"/>
<rect x="90.80" y="201.00" width="4.40" height="4.40" fill="#000"/>
<line x1="70.70" y1="185.50" x2="70.70" y2="323.00" stroke="#000" stroke-width="2"/>
<line x1="69.80" y1="322.30" x2="240.00" y2="322.30" stroke="#000" stroke-width="2"/>
<line x1="197.50" y1="196.30" x2="205.00" y2="196.30" stroke="#acacac" stroke-width="1.8"/>
<path d="M201.2 194.3 L203.2 196.3 L201.2 198.3 L199.2 196.3Z" fill="#acacac"/>
<text x="208.32" y="199.97" style="font-size:10.78px;">cKO</text>
<line x1="197.50" y1="210.00" x2="205.00" y2="210.00" stroke="#000" stroke-width="2"/>
<ellipse cx="201.2" cy="210" rx="2.7" ry="1.9" fill="#000"/>
<text x="208.33" y="213.65" style="font-size:10.57px;">cHet</text>
<text transform="translate(292.30,256.50) rotate(-90)" text-anchor="middle">Frequency of np396-specific CD8</text>
<text transform="translate(305.00,256.60) rotate(-90)" text-anchor="middle">/ 10<tspan dy="-3" style="font-size:6.5px">3</tspan><tspan dy="3"> YFP+ blood lymphocytes</tspan></text>
<text x="320.50" y="325.96" text-anchor="end">0</text>
<line x1="325.00" y1="322.30" x2="326.80" y2="322.30" stroke="#888" stroke-width="1"/>
<text x="320.50" y="299.66" text-anchor="end">10</text>
<line x1="325.00" y1="296.00" x2="326.80" y2="296.00" stroke="#888" stroke-width="1"/>
<text x="320.50" y="273.36" text-anchor="end">20</text>
<line x1="325.00" y1="269.70" x2="326.80" y2="269.70" stroke="#888" stroke-width="1"/>
<text x="320.50" y="247.06" text-anchor="end">30</text>
<line x1="325.00" y1="243.40" x2="326.80" y2="243.40" stroke="#888" stroke-width="1"/>
<text x="320.50" y="220.76" text-anchor="end">40</text>
<line x1="325.00" y1="217.10" x2="326.80" y2="217.10" stroke="#888" stroke-width="1"/>
<text x="320.50" y="194.46" text-anchor="end">50</text>
<line x1="325.00" y1="190.80" x2="326.80" y2="190.80" stroke="#888" stroke-width="1"/>
<text x="326.80" y="336.16" text-anchor="middle">0</text>
<line x1="326.80" y1="322.30" x2="326.80" y2="324.30" stroke="#888" stroke-width="1"/>
<text x="354.60" y="336.16" text-anchor="middle">10</text>
<line x1="354.60" y1="322.30" x2="354.60" y2="324.30" stroke="#888" stroke-width="1"/>
<text x="382.40" y="336.16" text-anchor="middle">20</text>
<line x1="382.40" y1="322.30" x2="382.40" y2="324.30" stroke="#888" stroke-width="1"/>
<text x="410.20" y="336.16" text-anchor="middle">30</text>
<line x1="410.20" y1="322.30" x2="410.20" y2="324.30" stroke="#888" stroke-width="1"/>
<text x="438.00" y="336.16" text-anchor="middle">40</text>
<line x1="438.00" y1="322.30" x2="438.00" y2="324.30" stroke="#888" stroke-width="1"/>
<text x="465.80" y="336.16" text-anchor="middle">50</text>
<line x1="465.80" y1="322.30" x2="465.80" y2="324.30" stroke="#888" stroke-width="1"/>
<text x="493.60" y="336.16" text-anchor="middle">60</text>
<line x1="493.60" y1="322.30" x2="493.60" y2="324.30" stroke="#888" stroke-width="1"/>
<text x="350.85" y="350.08" style="font-size:10.67px;">Days post LCMV infection</text>
<polyline points="345.30,191.50 379.50,286.30 408.75,298.80 437.00,298.80 465.50,303.00 493.75,302.00" fill="none" stroke="#acacac" stroke-width="2.2" stroke-linejoin="round" stroke-linecap="round"/>
<polyline points="345.30,207.30 379.50,280.00 408.75,293.80 437.00,290.50 465.50,297.50 493.75,297.00" fill="none" stroke="#000" stroke-width="2.6" stroke-linejoin="round"/>
<line x1="379.50" y1="262.00" x2="379.50" y2="298.00" stroke="#000" stroke-width="1.6"/>
<line x1="378.00" y1="262.00" x2="381.00" y2="262.00" stroke="#000" stroke-width="1.4"/>
<line x1="378.00" y1="298.00" x2="381.00" y2="298.00" stroke="#000" stroke-width="1.4"/>
<line x1="408.75" y1="278.50" x2="408.75" y2="312.50" stroke="#000" stroke-width="1.6"/>
<line x1="407.25" y1="278.50" x2="410.25" y2="278.50" stroke="#000" stroke-width="1.4"/>
<line x1="407.25" y1="312.50" x2="410.25" y2="312.50" stroke="#000" stroke-width="1.4"/>
<line x1="437.00" y1="277.00" x2="437.00" y2="312.50" stroke="#000" stroke-width="1.6"/>
<line x1="435.50" y1="277.00" x2="438.50" y2="277.00" stroke="#000" stroke-width="1.4"/>
<line x1="435.50" y1="312.50" x2="438.50" y2="312.50" stroke="#000" stroke-width="1.4"/>
<line x1="465.50" y1="287.00" x2="465.50" y2="317.00" stroke="#000" stroke-width="1.6"/>
<line x1="464.00" y1="287.00" x2="467.00" y2="287.00" stroke="#000" stroke-width="1.4"/>
<line x1="464.00" y1="317.00" x2="467.00" y2="317.00" stroke="#000" stroke-width="1.4"/>
<line x1="493.75" y1="286.30" x2="493.75" y2="313.80" stroke="#000" stroke-width="1.6"/>
<line x1="492.25" y1="286.30" x2="495.25" y2="286.30" stroke="#000" stroke-width="1.4"/>
<line x1="492.25" y1="313.80" x2="495.25" y2="313.80" stroke="#000" stroke-width="1.4"/>
<circle cx="379.50" cy="280.00" r="2.3" fill="#000"/>
<circle cx="408.75" cy="293.80" r="2.3" fill="#000"/>
<circle cx="437.00" cy="290.50" r="2.3" fill="#000"/>
<circle cx="465.50" cy="297.50" r="2.3" fill="#000"/>
<circle cx="493.75" cy="297.00" r="2.3" fill="#000"/>
<rect x="343.10" y="205.10" width="4.40" height="4.40" fill="#000"/>
<line x1="326.80" y1="187.00" x2="326.80" y2="323.00" stroke="#000" stroke-width="2"/>
<line x1="326.00" y1="322.30" x2="497.00" y2="322.30" stroke="#000" stroke-width="2"/>
<line x1="449.30" y1="197.50" x2="457.00" y2="197.50" stroke="#acacac" stroke-width="1.8"/>
<path d="M453.1 195.5 L455.1 197.5 L453.1 199.5 L451.1 197.5Z" fill="#acacac"/>
<text x="460.32" y="201.17" style="font-size:10.65px;">cKO</text>
<line x1="449.30" y1="211.30" x2="457.00" y2="211.30" stroke="#000" stroke-width="2"/>
<ellipse cx="453.1" cy="211.3" rx="2.7" ry="1.9" fill="#000"/>
<text x="460.33" y="214.90" style="font-size:10.57px;">cHet</text>
<text x="1.00" y="378.50" style="font-weight:bold;font-size:20px;">D</text>
<text x="162.46" y="371.90" style="font-size:10.72px;">Gating on YFP+ CD8 T cells</text>
<line x1="78.70" y1="380.00" x2="386.50" y2="380.00" stroke="#000" stroke-width="1.6"/>
<text x="85.38" y="392.66" style="font-size:10.89px;">Blood</text>
<text x="150.13" y="392.52" style="font-size:10.48px;">Spleen</text>
<text x="222.29" y="392.40" style="font-size:10.15px;">LNs</text>
<text x="285.40" y="392.35" style="font-size:10.0px;">Liver</text>
<text x="351.98" y="392.88" style="font-size:11.54px;">BM</text>
<text x="33.80" y="393.66">H2-D<tspan dy="-3.5" style="font-size:6.5px">b</tspan></text>
<text x="33.80" y="407.46">gp33</text>
<text x="24.34" y="433.46" style="font-weight:bold;font-size:11.49px;">cKO</text>
<text x="23.55" y="502.87" style="font-weight:bold;font-size:11.21px;">cHet</text>
<line x1="65.40" y1="404.00" x2="65.40" y2="539.30" stroke="#000" stroke-width="1.6"/>
<path d="M65.4 394.8 L61 408 L69.4 408 Z" fill="#000"/>
<line x1="64.60" y1="538.60" x2="350.00" y2="538.60" stroke="#000" stroke-width="1.6"/>
<path d="M359 538.6 L347 534.6 L347 542.6 Z" fill="#000"/>
<text x="364.84" y="542.39" style="font-size:11.27px;">CD44</text>
<line x1="74.00" y1="399.20" x2="132.00" y2="399.20" stroke="#e2e2e2" stroke-width="0.8"/>
<line x1="74.00" y1="399.50" x2="74.00" y2="459.00" stroke="#000" stroke-width="1.6"/>
<line x1="73.20" y1="458.20" x2="132.00" y2="458.20" stroke="#000" stroke-width="1.6"/>
<line x1="72.20" y1="403.50" x2="74.00" y2="403.50" stroke="#000" stroke-width="1.1"/>
<line x1="72.20" y1="412.28" x2="74.00" y2="412.28" stroke="#000" stroke-width="1.1"/>
<line x1="72.20" y1="421.07" x2="74.00" y2="421.07" stroke="#000" stroke-width="1.1"/>
<line x1="72.20" y1="429.85" x2="74.00" y2="429.85" stroke="#000" stroke-width="1.1"/>
<line x1="72.20" y1="438.63" x2="74.00" y2="438.63" stroke="#000" stroke-width="1.1"/>
<line x1="72.20" y1="447.42" x2="74.00" y2="447.42" stroke="#000" stroke-width="1.1"/>
<line x1="72.20" y1="456.20" x2="74.00" y2="456.20" stroke="#000" stroke-width="1.1"/>
<line x1="77.00" y1="458.20" x2="77.00" y2="460.00" stroke="#000" stroke-width="1.1"/>
<line x1="84.30" y1="458.20" x2="84.30" y2="460.00" stroke="#000" stroke-width="1.1"/>
<line x1="91.60" y1="458.20" x2="91.60" y2="460.00" stroke="#000" stroke-width="1.1"/>
<line x1="98.90" y1="458.20" x2="98.90" y2="460.00" stroke="#000" stroke-width="1.1"/>
<line x1="106.20" y1="458.20" x2="106.20" y2="460.00" stroke="#000" stroke-width="1.1"/>
<line x1="113.50" y1="458.20" x2="113.50" y2="460.00" stroke="#000" stroke-width="1.1"/>
<line x1="120.80" y1="458.20" x2="120.80" y2="460.00" stroke="#000" stroke-width="1.1"/>
<line x1="128.10" y1="458.20" x2="128.10" y2="460.00" stroke="#000" stroke-width="1.1"/>
<rect x="109.50" y="416.30" width="15.00" height="17.50" fill="none" stroke="#000" stroke-width="1.6"/>
<text x="125.30" y="411.82" text-anchor="end" style="font-size:10.2px;">2.89</text>
<line x1="138.70" y1="399.20" x2="196.70" y2="399.20" stroke="#e2e2e2" stroke-width="0.8"/>
<line x1="138.70" y1="399.50" x2="138.70" y2="459.00" stroke="#000" stroke-width="1.6"/>
<line x1="137.90" y1="458.20" x2="196.70" y2="458.20" stroke="#000" stroke-width="1.6"/>
<line x1="136.90" y1="403.50" x2="138.70" y2="403.50" stroke="#000" stroke-width="1.1"/>
<line x1="136.90" y1="412.28" x2="138.70" y2="412.28" stroke="#000" stroke-width="1.1"/>
<line x1="136.90" y1="421.07" x2="138.70" y2="421.07" stroke="#000" stroke-width="1.1"/>
<line x1="136.90" y1="429.85" x2="138.70" y2="429.85" stroke="#000" stroke-width="1.1"/>
<line x1="136.90" y1="438.63" x2="138.70" y2="438.63" stroke="#000" stroke-width="1.1"/>
<line x1="136.90" y1="447.42" x2="138.70" y2="447.42" stroke="#000" stroke-width="1.1"/>
<line x1="136.90" y1="456.20" x2="138.70" y2="456.20" stroke="#000" stroke-width="1.1"/>
<line x1="141.70" y1="458.20" x2="141.70" y2="460.00" stroke="#000" stroke-width="1.1"/>
<line x1="149.00" y1="458.20" x2="149.00" y2="460.00" stroke="#000" stroke-width="1.1"/>
<line x1="156.30" y1="458.20" x2="156.30" y2="460.00" stroke="#000" stroke-width="1.1"/>
<line x1="163.60" y1="458.20" x2="163.60" y2="460.00" stroke="#000" stroke-width="1.1"/>
<line x1="170.90" y1="458.20" x2="170.90" y2="460.00" stroke="#000" stroke-width="1.1"/>
<line x1="178.20" y1="458.20" x2="178.20" y2="460.00" stroke="#000" stroke-width="1.1"/>
<line x1="185.50" y1="458.20" x2="185.50" y2="460.00" stroke="#000" stroke-width="1.1"/>
<line x1="192.80" y1="458.20" x2="192.80" y2="460.00" stroke="#000" stroke-width="1.1"/>
<rect x="175.00" y="416.30" width="14.30" height="17.50" fill="none" stroke="#000" stroke-width="1.6"/>
<text x="189.60" y="411.82" text-anchor="end" style="font-size:10.2px;">0.72</text>
<line x1="203.30" y1="399.20" x2="261.30" y2="399.20" stroke="#e2e2e2" stroke-width="0.8"/>
<line x1="203.30" y1="399.50" x2="203.30" y2="459.00" stroke="#000" stroke-width="1.6"/>
<line x1="202.50" y1="458.20" x2="261.30" y2="458.20" stroke="#000" stroke-width="1.6"/>
<line x1="201.50" y1="403.50" x2="203.30" y2="403.50" stroke="#000" stroke-width="1.1"/>
<line x1="201.50" y1="412.28" x2="203.30" y2="412.28" stroke="#000" stroke-width="1.1"/>
<line x1="201.50" y1="421.07" x2="203.30" y2="421.07" stroke="#000" stroke-width="1.1"/>
<line x1="201.50" y1="429.85" x2="203.30" y2="429.85" stroke="#000" stroke-width="1.1"/>
<line x1="201.50" y1="438.63" x2="203.30" y2="438.63" stroke="#000" stroke-width="1.1"/>
<line x1="201.50" y1="447.42" x2="203.30" y2="447.42" stroke="#000" stroke-width="1.1"/>
<line x1="201.50" y1="456.20" x2="203.30" y2="456.20" stroke="#000" stroke-width="1.1"/>
<line x1="206.30" y1="458.20" x2="206.30" y2="460.00" stroke="#000" stroke-width="1.1"/>
<line x1="213.60" y1="458.20" x2="213.60" y2="460.00" stroke="#000" stroke-width="1.1"/>
<line x1="220.90" y1="458.20" x2="220.90" y2="460.00" stroke="#000" stroke-width="1.1"/>
<line x1="228.20" y1="458.20" x2="228.20" y2="460.00" stroke="#000" stroke-width="1.1"/>
<line x1="235.50" y1="458.20" x2="235.50" y2="460.00" stroke="#000" stroke-width="1.1"/>
<line x1="242.80" y1="458.20" x2="242.80" y2="460.00" stroke="#000" stroke-width="1.1"/>
<line x1="250.10" y1="458.20" x2="250.10" y2="460.00" stroke="#000" stroke-width="1.1"/>
<line x1="257.40" y1="458.20" x2="257.40" y2="460.00" stroke="#000" stroke-width="1.1"/>
<rect x="238.80" y="416.30" width="14.50" height="17.50" fill="none" stroke="#000" stroke-width="1.6"/>
<text x="254.35" y="411.82" text-anchor="end" style="font-size:10.2px;">0.27</text>
<line x1="268.00" y1="399.20" x2="326.00" y2="399.20" stroke="#e2e2e2" stroke-width="0.8"/>
<line x1="268.00" y1="399.50" x2="268.00" y2="459.00" stroke="#000" stroke-width="1.6"/>
<line x1="267.20" y1="458.20" x2="326.00" y2="458.20" stroke="#000" stroke-width="1.6"/>
<line x1="266.20" y1="403.50" x2="268.00" y2="403.50" stroke="#000" stroke-width="1.1"/>
<line x1="266.20" y1="412.28" x2="268.00" y2="412.28" stroke="#000" stroke-width="1.1"/>
<line x1="266.20" y1="421.07" x2="268.00" y2="421.07" stroke="#000" stroke-width="1.1"/>
<line x1="266.20" y1="429.85" x2="268.00" y2="429.85" stroke="#000" stroke-width="1.1"/>
<line x1="266.20" y1="438.63" x2="268.00" y2="438.63" stroke="#000" stroke-width="1.1"/>
<line x1="266.20" y1="447.42" x2="268.00" y2="447.42" stroke="#000" stroke-width="1.1"/>
<line x1="266.20" y1="456.20" x2="268.00" y2="456.20" stroke="#000" stroke-width="1.1"/>
<line x1="271.00" y1="458.20" x2="271.00" y2="460.00" stroke="#000" stroke-width="1.1"/>
<line x1="278.30" y1="458.20" x2="278.30" y2="460.00" stroke="#000" stroke-width="1.1"/>
<line x1="285.60" y1="458.20" x2="285.60" y2="460.00" stroke="#000" stroke-width="1.1"/>
<line x1="292.90" y1="458.20" x2="292.90" y2="460.00" stroke="#000" stroke-width="1.1"/>
<line x1="300.20" y1="458.20" x2="300.20" y2="460.00" stroke="#000" stroke-width="1.1"/>
<line x1="307.50" y1="458.20" x2="307.50" y2="460.00" stroke="#000" stroke-width="1.1"/>
<line x1="314.80" y1="458.20" x2="314.80" y2="460.00" stroke="#000" stroke-width="1.1"/>
<line x1="322.10" y1="458.20" x2="322.10" y2="460.00" stroke="#000" stroke-width="1.1"/>
<rect x="304.00" y="416.30" width="14.70" height="17.50" fill="none" stroke="#000" stroke-width="1.6"/>
<text x="319.35" y="411.82" text-anchor="end" style="font-size:10.2px;">6.18</text>
<line x1="331.70" y1="399.20" x2="389.70" y2="399.20" stroke="#e2e2e2" stroke-width="0.8"/>
<line x1="331.70" y1="399.50" x2="331.70" y2="459.00" stroke="#000" stroke-width="1.6"/>
<line x1="330.90" y1="458.20" x2="389.70" y2="458.20" stroke="#000" stroke-width="1.6"/>
<line x1="329.90" y1="403.50" x2="331.70" y2="403.50" stroke="#000" stroke-width="1.1"/>
<line x1="329.90" y1="412.28" x2="331.70" y2="412.28" stroke="#000" stroke-width="1.1"/>
<line x1="329.90" y1="421.07" x2="331.70" y2="421.07" stroke="#000" stroke-width="1.1"/>
<line x1="329.90" y1="429.85" x2="331.70" y2="429.85" stroke="#000" stroke-width="1.1"/>
<line x1="329.90" y1="438.63" x2="331.70" y2="438.63" stroke="#000" stroke-width="1.1"/>
<line x1="329.90" y1="447.42" x2="331.70" y2="447.42" stroke="#000" stroke-width="1.1"/>
<line x1="329.90" y1="456.20" x2="331.70" y2="456.20" stroke="#000" stroke-width="1.1"/>
<line x1="334.70" y1="458.20" x2="334.70" y2="460.00" stroke="#000" stroke-width="1.1"/>
<line x1="342.00" y1="458.20" x2="342.00" y2="460.00" stroke="#000" stroke-width="1.1"/>
<line x1="349.30" y1="458.20" x2="349.30" y2="460.00" stroke="#000" stroke-width="1.1"/>
<line x1="356.60" y1="458.20" x2="356.60" y2="460.00" stroke="#000" stroke-width="1.1"/>
<line x1="363.90" y1="458.20" x2="363.90" y2="460.00" stroke="#000" stroke-width="1.1"/>
<line x1="371.20" y1="458.20" x2="371.20" y2="460.00" stroke="#000" stroke-width="1.1"/>
<line x1="378.50" y1="458.20" x2="378.50" y2="460.00" stroke="#000" stroke-width="1.1"/>
<line x1="385.80" y1="458.20" x2="385.80" y2="460.00" stroke="#000" stroke-width="1.1"/>
<rect x="364.40" y="416.30" width="14.10" height="17.50" fill="none" stroke="#000" stroke-width="1.6"/>
<text x="379.10" y="411.82" text-anchor="end" style="font-size:10.2px;">3.91</text>
<line x1="74.00" y1="470.20" x2="132.00" y2="470.20" stroke="#e2e2e2" stroke-width="0.8"/>
<line x1="74.00" y1="470.50" x2="74.00" y2="530.50" stroke="#000" stroke-width="1.6"/>
<line x1="73.20" y1="529.70" x2="132.00" y2="529.70" stroke="#000" stroke-width="1.6"/>
<line x1="72.20" y1="474.50" x2="74.00" y2="474.50" stroke="#000" stroke-width="1.1"/>
<line x1="72.20" y1="483.37" x2="74.00" y2="483.37" stroke="#000" stroke-width="1.1"/>
<line x1="72.20" y1="492.23" x2="74.00" y2="492.23" stroke="#000" stroke-width="1.1"/>
<line x1="72.20" y1="501.10" x2="74.00" y2="501.10" stroke="#000" stroke-width="1.1"/>
<line x1="72.20" y1="509.97" x2="74.00" y2="509.97" stroke="#000" stroke-width="1.1"/>
<line x1="72.20" y1="518.83" x2="74.00" y2="518.83" stroke="#000" stroke-width="1.1"/>
<line x1="72.20" y1="527.70" x2="74.00" y2="527.70" stroke="#000" stroke-width="1.1"/>
<line x1="77.00" y1="529.70" x2="77.00" y2="531.50" stroke="#000" stroke-width="1.1"/>
<line x1="84.30" y1="529.70" x2="84.30" y2="531.50" stroke="#000" stroke-width="1.1"/>
<line x1="91.60" y1="529.70" x2="91.60" y2="531.50" stroke="#000" stroke-width="1.1"/>
<line x1="98.90" y1="529.70" x2="98.90" y2="531.50" stroke="#000" stroke-width="1.1"/>
<line x1="106.20" y1="529.70" x2="106.20" y2="531.50" stroke="#000" stroke-width="1.1"/>
<line x1="113.50" y1="529.70" x2="113.50" y2="531.50" stroke="#000" stroke-width="1.1"/>
<line x1="120.80" y1="529.70" x2="120.80" y2="531.50" stroke="#000" stroke-width="1.1"/>
<line x1="128.10" y1="529.70" x2="128.10" y2="531.50" stroke="#000" stroke-width="1.1"/>
<rect x="109.50" y="487.00" width="14.30" height="17.50" fill="none" stroke="#000" stroke-width="1.6"/>
<text x="125.10" y="482.32" text-anchor="end" style="font-size:10.2px;">2.45</text>
<line x1="138.70" y1="470.20" x2="196.70" y2="470.20" stroke="#e2e2e2" stroke-width="0.8"/>
<line x1="138.70" y1="470.50" x2="138.70" y2="530.50" stroke="#000" stroke-width="1.6"/>
<line x1="137.90" y1="529.70" x2="196.70" y2="529.70" stroke="#000" stroke-width="1.6"/>
<line x1="136.90" y1="474.50" x2="138.70" y2="474.50" stroke="#000" stroke-width="1.1"/>
<line x1="136.90" y1="483.37" x2="138.70" y2="483.37" stroke="#000" stroke-width="1.1"/>
<line x1="136.90" y1="492.23" x2="138.70" y2="492.23" stroke="#000" stroke-width="1.1"/>
<line x1="136.90" y1="501.10" x2="138.70" y2="501.10" stroke="#000" stroke-width="1.1"/>
<line x1="136.90" y1="509.97" x2="138.70" y2="509.97" stroke="#000" stroke-width="1.1"/>
<line x1="136.90" y1="518.83" x2="138.70" y2="518.83" stroke="#000" stroke-width="1.1"/>
<line x1="136.90" y1="527.70" x2="138.70" y2="527.70" stroke="#000" stroke-width="1.1"/>
<line x1="141.70" y1="529.70" x2="141.70" y2="531.50" stroke="#000" stroke-width="1.1"/>
<line x1="149.00" y1="529.70" x2="149.00" y2="531.50" stroke="#000" stroke-width="1.1"/>
<line x1="156.30" y1="529.70" x2="156.30" y2="531.50" stroke="#000" stroke-width="1.1"/>
<line x1="163.60" y1="529.70" x2="163.60" y2="531.50" stroke="#000" stroke-width="1.1"/>
<line x1="170.90" y1="529.70" x2="170.90" y2="531.50" stroke="#000" stroke-width="1.1"/>
<line x1="178.20" y1="529.70" x2="178.20" y2="531.50" stroke="#000" stroke-width="1.1"/>
<line x1="185.50" y1="529.70" x2="185.50" y2="531.50" stroke="#000" stroke-width="1.1"/>
<line x1="192.80" y1="529.70" x2="192.80" y2="531.50" stroke="#000" stroke-width="1.1"/>
<rect x="175.00" y="487.00" width="14.30" height="17.50" fill="none" stroke="#000" stroke-width="1.6"/>
<text x="189.60" y="482.32" text-anchor="end" style="font-size:10.2px;">0.72</text>
<line x1="203.30" y1="470.20" x2="261.30" y2="470.20" stroke="#e2e2e2" stroke-width="0.8"/>
<line x1="203.30" y1="470.50" x2="203.30" y2="530.50" stroke="#000" stroke-width="1.6"/>
<line x1="202.50" y1="529.70" x2="261.30" y2="529.70" stroke="#000" stroke-width="1.6"/>
<line x1="201.50" y1="474.50" x2="203.30" y2="474.50" stroke="#000" stroke-width="1.1"/>
<line x1="201.50" y1="483.37" x2="203.30" y2="483.37" stroke="#000" stroke-width="1.1"/>
<line x1="201.50" y1="492.23" x2="203.30" y2="492.23" stroke="#000" stroke-width="1.1"/>
<line x1="201.50" y1="501.10" x2="203.30" y2="501.10" stroke="#000" stroke-width="1.1"/>
<line x1="201.50" y1="509.97" x2="203.30" y2="509.97" stroke="#000" stroke-width="1.1"/>
<line x1="201.50" y1="518.83" x2="203.30" y2="518.83" stroke="#000" stroke-width="1.1"/>
<line x1="201.50" y1="527.70" x2="203.30" y2="527.70" stroke="#000" stroke-width="1.1"/>
<line x1="206.30" y1="529.70" x2="206.30" y2="531.50" stroke="#000" stroke-width="1.1"/>
<line x1="213.60" y1="529.70" x2="213.60" y2="531.50" stroke="#000" stroke-width="1.1"/>
<line x1="220.90" y1="529.70" x2="220.90" y2="531.50" stroke="#000" stroke-width="1.1"/>
<line x1="228.20" y1="529.70" x2="228.20" y2="531.50" stroke="#000" stroke-width="1.1"/>
<line x1="235.50" y1="529.70" x2="235.50" y2="531.50" stroke="#000" stroke-width="1.1"/>
<line x1="242.80" y1="529.70" x2="242.80" y2="531.50" stroke="#000" stroke-width="1.1"/>
<line x1="250.10" y1="529.70" x2="250.10" y2="531.50" stroke="#000" stroke-width="1.1"/>
<line x1="257.40" y1="529.70" x2="257.40" y2="531.50" stroke="#000" stroke-width="1.1"/>
<rect x="238.80" y="487.00" width="13.70" height="17.50" fill="none" stroke="#000" stroke-width="1.6"/>
<text x="251.85" y="482.32" text-anchor="end" style="font-size:10.2px;">0.2</text>
<line x1="268.00" y1="470.20" x2="326.00" y2="470.20" stroke="#e2e2e2" stroke-width="0.8"/>
<line x1="268.00" y1="470.50" x2="268.00" y2="530.50" stroke="#000" stroke-width="1.6"/>
<line x1="267.20" y1="529.70" x2="326.00" y2="529.70" stroke="#000" stroke-width="1.6"/>
<line x1="266.20" y1="474.50" x2="268.00" y2="474.50" stroke="#000" stroke-width="1.1"/>
<line x1="266.20" y1="483.37" x2="268.00" y2="483.37" stroke="#000" stroke-width="1.1"/>
<line x1="266.20" y1="492.23" x2="268.00" y2="492.23" stroke="#000" stroke-width="1.1"/>
<line x1="266.20" y1="501.10" x2="268.00" y2="501.10" stroke="#000" stroke-width="1.1"/>
<line x1="266.20" y1="509.97" x2="268.00" y2="509.97" stroke="#000" stroke-width="1.1"/>
<line x1="266.20" y1="518.83" x2="268.00" y2="518.83" stroke="#000" stroke-width="1.1"/>
<line x1="266.20" y1="527.70" x2="268.00" y2="527.70" stroke="#000" stroke-width="1.1"/>
<line x1="271.00" y1="529.70" x2="271.00" y2="531.50" stroke="#000" stroke-width="1.1"/>
<line x1="278.30" y1="529.70" x2="278.30" y2="531.50" stroke="#000" stroke-width="1.1"/>
<line x1="285.60" y1="529.70" x2="285.60" y2="531.50" stroke="#000" stroke-width="1.1"/>
<line x1="292.90" y1="529.70" x2="292.90" y2="531.50" stroke="#000" stroke-width="1.1"/>
<line x1="300.20" y1="529.70" x2="300.20" y2="531.50" stroke="#000" stroke-width="1.1"/>
<line x1="307.50" y1="529.70" x2="307.50" y2="531.50" stroke="#000" stroke-width="1.1"/>
<line x1="314.80" y1="529.70" x2="314.80" y2="531.50" stroke="#000" stroke-width="1.1"/>
<line x1="322.10" y1="529.70" x2="322.10" y2="531.50" stroke="#000" stroke-width="1.1"/>
<rect x="303.80" y="487.00" width="14.90" height="17.50" fill="none" stroke="#000" stroke-width="1.6"/>
<text x="318.60" y="482.32" text-anchor="end" style="font-size:10.2px;">3.57</text>
<line x1="331.70" y1="470.20" x2="389.70" y2="470.20" stroke="#e2e2e2" stroke-width="0.8"/>
<line x1="331.70" y1="470.50" x2="331.70" y2="530.50" stroke="#000" stroke-width="1.6"/>
<line x1="330.90" y1="529.70" x2="389.70" y2="529.70" stroke="#000" stroke-width="1.6"/>
<line x1="329.90" y1="474.50" x2="331.70" y2="474.50" stroke="#000" stroke-width="1.1"/>
<line x1="329.90" y1="483.37" x2="331.70" y2="483.37" stroke="#000" stroke-width="1.1"/>
<line x1="329.90" y1="492.23" x2="331.70" y2="492.23" stroke="#000" stroke-width="1.1"/>
<line x1="329.90" y1="501.10" x2="331.70" y2="501.10" stroke="#000" stroke-width="1.1"/>
<line x1="329.90" y1="509.97" x2="331.70" y2="509.97" stroke="#000" stroke-width="1.1"/>
<line x1="329.90" y1="518.83" x2="331.70" y2="518.83" stroke="#000" stroke-width="1.1"/>
<line x1="329.90" y1="527.70" x2="331.70" y2="527.70" stroke="#000" stroke-width="1.1"/>
<line x1="334.70" y1="529.70" x2="334.70" y2="531.50" stroke="#000" stroke-width="1.1"/>
<line x1="342.00" y1="529.70" x2="342.00" y2="531.50" stroke="#000" stroke-width="1.1"/>
<line x1="349.30" y1="529.70" x2="349.30" y2="531.50" stroke="#000" stroke-width="1.1"/>
<line x1="356.60" y1="529.70" x2="356.60" y2="531.50" stroke="#000" stroke-width="1.1"/>
<line x1="363.90" y1="529.70" x2="363.90" y2="531.50" stroke="#000" stroke-width="1.1"/>
<line x1="371.20" y1="529.70" x2="371.20" y2="531.50" stroke="#000" stroke-width="1.1"/>
<line x1="378.50" y1="529.70" x2="378.50" y2="531.50" stroke="#000" stroke-width="1.1"/>
<line x1="385.80" y1="529.70" x2="385.80" y2="531.50" stroke="#000" stroke-width="1.1"/>
<rect x="363.00" y="487.00" width="14.00" height="17.50" fill="none" stroke="#000" stroke-width="1.6"/>
<text x="378.50" y="482.32" text-anchor="end" style="font-size:10.2px;">3.73</text>
<text x="0.50" y="575.40" style="font-weight:bold;font-size:20px;">E</text>
<line x1="35" y1="564.5" x2="40.5" y2="564.5" stroke="#777" stroke-width="3.4" stroke-linecap="round"/>
<text x="44.42" y="568.24" style="font-size:10.84px;">cKO gp33+</text>
<line x1="106.5" y1="564" x2="112.5" y2="564" stroke="#000" stroke-width="3.4" stroke-linecap="round"/>
<text x="116.06" y="567.77" style="font-size:10.94px;">cHet np396+</text>
<rect x="188.50" y="561.30" width="6.30" height="6.00" fill="#c8c8c8"/>
<text x="198.29" y="567.28" style="font-size:10.96px;">naive</text>
<path d="M33.5 618.5 L33.5 612.0 L35.0 617.0 L40.0 618.0 L50.0 618.0 L54.0 617.0 L56.0 612.0 L58.5 603.0 L61.0 593.0 L63.0 585.0 L64.5 580.0 L65.7 578.0 L66.8 581.0 L68.0 590.0 L69.5 600.0 L71.0 610.0 L72.3 618.5Z" fill="#cdcdcd"/>
<polyline points="33.50,612.00 33.52,613.03 33.88,614.93 34.80,615.50 35.00,617.00 36.25,617.12 37.50,617.25 38.75,617.38 40.00,617.50 41.20,617.40 42.40,617.30 43.60,617.20 44.80,617.10 46.00,617.00 47.33,617.17 48.67,617.33 50.00,617.50 51.33,617.17 52.59,616.85 54.00,616.50 54.77,615.79 56.54,614.02 57.00,613.00 57.49,611.86 58.66,611.42 59.80,610.00 60.61,609.21 61.12,606.91 61.09,606.12 62.00,605.00 62.17,603.56 63.34,603.23 63.09,601.13 64.13,600.91 63.73,599.29 64.30,598.00 65.00,596.92 64.36,595.22 65.30,594.24 64.65,593.61 65.63,592.25 65.67,590.58 66.14,589.53 66.14,588.24 65.75,587.46 66.66,586.78 66.60,585.00 67.03,583.17 67.63,582.43 67.28,580.69 67.47,579.60 68.21,578.38 68.00,577.00 67.93,576.09 69.00,574.50 68.94,575.85 69.74,577.58 69.67,579.05 70.50,580.00 70.50,581.18 71.16,582.82 71.59,583.03 70.82,584.73 70.95,585.57 71.94,586.99 72.11,588.98 72.42,589.84 72.61,590.99 72.20,592.00 72.15,593.22 72.34,594.12 72.48,595.91 72.98,596.82 72.53,598.95 73.11,599.33 73.10,601.57 72.92,602.02 73.31,603.13 73.30,605.00 73.21,606.54 73.44,606.89 73.32,609.02 73.59,609.49 74.22,611.59 73.16,612.12 73.72,613.67 73.74,614.32 73.99,615.68 74.03,617.09 74.10,618.30 75.33,618.30 76.57,618.30 77.80,618.30 79.03,618.30 80.27,618.30 81.50,618.30 82.73,618.30 83.97,618.30 85.20,618.30 86.43,618.30 87.67,618.30 88.90,618.30 90.13,618.30 91.37,618.30 92.60,618.30 93.83,618.30 95.07,618.30 96.30,618.30 97.53,618.30 98.77,618.30 100.00,618.30" fill="none" stroke="#767676" stroke-width="2.5" stroke-linejoin="round"/>
<polyline points="33.50,614.00 34.53,615.15 35.64,617.05 36.00,617.80 37.20,617.68 38.40,617.56 39.60,617.44 40.80,617.32 42.00,617.20 43.20,617.32 44.40,617.44 45.60,617.56 46.80,617.68 48.00,617.80 49.33,617.53 50.67,617.27 52.00,617.00 54.00,617.00 54.73,615.66 56.05,615.27 57.00,614.00 57.88,612.64 58.22,611.71 59.40,610.00 59.83,608.45 60.37,608.03 61.30,606.74 61.50,605.50 62.35,604.82 61.92,603.23 62.76,601.78 63.50,600.65 63.20,599.05 63.80,598.00 64.56,596.40 64.83,595.06 64.86,594.61 64.90,593.51 65.28,591.52 65.22,590.22 64.86,589.31 66.03,588.19 66.27,587.13 66.00,586.00 66.63,584.71 66.96,583.23 67.09,581.74 66.58,580.79 67.33,578.86 67.50,578.00 67.40,576.79 68.58,575.34 68.50,574.50 69.01,576.45 69.72,577.50 69.00,578.34 69.80,580.00 70.31,581.69 69.95,582.59 70.87,584.18 70.57,585.11 70.83,585.93 70.67,587.46 70.92,587.82 71.67,589.78 71.35,590.29 71.50,592.00 71.18,593.40 71.80,594.11 72.10,595.36 71.74,596.70 71.56,597.92 72.11,599.34 72.26,601.29 71.93,602.51 72.56,603.95 72.70,605.00 72.30,606.27 73.38,607.72 73.26,608.21 73.03,609.81 72.79,611.14 73.28,611.80 73.32,613.26 72.94,614.47 73.65,616.26 73.43,617.09 73.50,618.30" fill="none" stroke="#111" stroke-width="1.6" stroke-linejoin="round" stroke-dasharray="4 1.2"/>
<rect x="32.80" y="575.00" width="67.80" height="45.50" fill="none" stroke="#111" stroke-width="1.9"/>
<line x1="31.30" y1="626.60" x2="90.60" y2="626.60" stroke="#000" stroke-width="1.7"/>
<path d="M102.10 626.60 L88.60 623.20 L88.60 630.00 Z" fill="#000"/>
<text x="47.04" y="641.87" style="font-size:11.23px;">CD127</text>
<path d="M108.5 618.3 L108.5 607.0 L110.0 614.0 L111.3 616.0 L115.0 614.0 L119.0 611.0 L122.5 606.0 L125.5 600.0 L128.5 590.0 L130.5 583.0 L132.0 578.0 L133.4 577.0 L134.8 580.0 L135.8 590.0 L136.6 605.0 L137.2 618.3Z" fill="#cdcdcd"/>
<polyline points="108.50,612.00 109.32,613.10 108.84,613.92 109.64,616.31 110.00,617.00 111.20,617.10 112.40,617.20 113.60,617.30 114.80,617.40 116.00,617.50 117.20,617.46 118.40,617.42 119.60,617.38 120.80,617.34 122.00,617.30 123.60,616.33 124.25,616.46 126.00,616.00 126.71,614.91 127.41,614.23 129.03,612.44 130.00,612.00 130.59,610.88 131.23,609.90 131.53,608.38 132.35,607.57 133.00,606.00 133.50,604.21 134.35,603.35 134.66,601.55 135.00,600.48 134.71,598.84 135.50,598.00 136.05,596.53 136.43,595.27 135.96,593.93 136.04,592.53 137.22,591.93 137.38,590.20 136.98,588.71 137.50,588.00 137.66,586.74 137.50,585.66 138.25,583.85 138.14,582.82 138.38,581.77 138.19,580.14 138.80,579.00 139.87,577.86 140.00,576.00 140.04,577.65 140.34,578.45 140.17,579.45 140.49,581.13 140.77,582.78 140.50,584.20 141.20,585.00 142.18,584.02 142.60,581.93 142.50,581.00 143.80,579.00 143.99,580.70 143.87,581.23 143.85,582.31 143.98,583.63 144.81,585.73 144.31,586.28 144.72,588.57 145.37,589.26 145.24,590.14 145.20,592.00 145.78,593.40 145.60,594.98 146.05,595.88 145.26,596.73 146.22,597.93 146.15,599.83 146.16,601.62 146.22,602.16 146.55,603.55 146.80,605.00 146.87,605.80 146.98,607.20 148.11,608.70 147.33,610.25 147.95,611.61 148.75,612.78 148.50,614.00 148.38,614.94 149.14,616.35 149.50,618.30 150.71,618.30 151.93,618.30 153.14,618.30 154.36,618.30 155.57,618.30 156.79,618.30 158.00,618.30 159.21,618.30 160.43,618.30 161.64,618.30 162.86,618.30 164.07,618.30 165.29,618.30 166.50,618.30 167.71,618.30 168.93,618.30 170.14,618.30 171.36,618.30 172.57,618.30 173.79,618.30 175.00,618.30" fill="none" stroke="#767676" stroke-width="2.5" stroke-linejoin="round"/>
<polyline points="108.50,613.00 109.21,614.39 109.58,616.34 110.00,617.50 111.25,617.58 112.50,617.65 113.75,617.72 115.00,617.80 116.25,617.72 117.50,617.65 118.75,617.58 120.00,617.50 121.19,617.32 123.00,616.00 124.12,614.71 124.52,614.05 124.91,613.17 126.00,612.00 126.62,610.29 128.08,609.97 127.80,608.76 129.00,607.00 129.65,605.40 129.86,604.79 130.94,603.25 130.80,602.44 130.94,600.80 132.00,600.00 132.92,599.24 132.70,597.70 133.22,596.30 133.62,595.57 133.57,594.10 134.06,592.23 134.12,591.80 134.60,590.00 134.53,588.23 135.58,587.03 135.10,586.05 135.80,584.88 135.58,583.70 136.00,582.30 136.50,581.00 137.33,580.29 137.58,578.88 137.53,577.33 138.00,576.00 139.30,575.50 139.91,576.77 139.99,578.30 139.76,578.84 139.95,580.62 140.19,581.22 140.92,582.61 140.50,584.00 140.28,584.85 141.21,586.54 141.50,588.00 142.17,587.15 142.13,585.63 141.77,583.75 143.01,582.78 142.80,581.00 143.07,582.09 142.97,583.33 142.76,585.35 143.46,586.38 143.07,587.78 143.28,588.94 144.00,590.00 144.26,591.32 144.59,592.69 144.98,593.85 144.56,594.86 144.33,596.97 145.37,598.10 145.63,599.40 145.78,600.10 145.34,601.30 145.50,603.00 145.49,604.85 145.46,605.56 146.46,606.67 145.98,607.96 146.88,609.28 146.34,610.15 147.00,612.00 147.06,613.70 147.74,614.19 147.82,615.57 148.20,617.04 148.50,618.30" fill="none" stroke="#111" stroke-width="1.6" stroke-linejoin="round" stroke-dasharray="4 1.2"/>
<rect x="108.20" y="574.50" width="67.80" height="45.60" fill="none" stroke="#111" stroke-width="1.9"/>
<line x1="106.70" y1="626.60" x2="166.00" y2="626.60" stroke="#000" stroke-width="1.7"/>
<path d="M177.50 626.60 L164.00 623.20 L164.00 630.00 Z" fill="#000"/>
<text x="122.74" y="641.87" style="font-size:11.23px;">CD122</text>
<path d="M184.0 619.3 L184.0 586.0 L186.0 589.0 L189.0 595.0 L193.0 600.0 L196.0 596.0 L199.0 588.0 L201.0 583.0 L203.0 581.0 L205.0 584.0 L206.0 590.0 L209.0 604.0 L213.0 619.3Z" fill="#cdcdcd"/>
<polyline points="184.00,578.00 184.85,579.05 184.74,580.35 185.01,581.90 185.85,582.74 186.03,583.67 186.00,585.00 186.02,586.10 187.50,587.02 188.14,588.34 187.82,589.51 188.46,590.54 189.50,592.00 189.99,592.89 191.49,594.23 192.99,595.10 193.80,595.50 194.77,593.83 194.34,593.41 195.04,591.90 195.56,591.22 196.50,590.00 196.95,588.76 197.94,588.03 197.54,586.88 198.10,584.60 198.73,584.03 199.50,582.70 200.01,581.40 201.61,580.74 202.00,580.00 202.79,578.76 204.50,577.70 204.95,578.41 206.43,580.26 206.50,581.00 207.17,582.10 207.77,583.03 208.64,584.81 208.70,586.20 208.79,587.20 209.35,589.05 208.66,589.75 209.08,591.58 209.61,592.02 210.07,593.50 210.12,594.27 210.00,596.00 209.91,596.77 210.44,598.38 210.31,599.79 210.27,601.48 211.22,601.92 210.81,604.01 211.44,604.49 211.30,606.07 211.60,607.60 212.00,608.61 212.66,609.84 211.89,610.93 212.15,612.53 213.00,614.00 213.74,615.83 214.18,616.28 214.05,617.97 214.40,619.30 215.62,619.30 216.84,619.30 218.06,619.30 219.28,619.30 220.50,619.30 221.72,619.30 222.94,619.30 224.16,619.30 225.38,619.30 226.60,619.30 227.82,619.30 229.04,619.30 230.26,619.30 231.48,619.30 232.70,619.30 233.92,619.30 235.14,619.30 236.36,619.30 237.58,619.30 238.80,619.30 240.02,619.30 241.24,619.30 242.46,619.30 243.68,619.30 244.90,619.30 246.12,619.30 247.34,619.30 248.56,619.30 249.78,619.30 251.00,619.30" fill="none" stroke="#767676" stroke-width="2.5" stroke-linejoin="round"/>
<polyline points="184.00,577.00 184.17,578.37 184.69,579.50 185.14,581.38 184.91,581.74 185.91,583.50 185.72,585.26 186.00,586.00 186.26,587.56 187.32,588.46 186.69,589.78 187.23,590.34 188.52,591.81 188.70,593.28 189.00,594.00 189.57,594.23 191.10,595.93 192.34,596.13 193.00,597.00 193.34,595.96 193.95,594.56 194.80,593.11 196.00,592.00 196.70,591.43 196.42,590.01 196.91,588.78 198.22,587.32 198.28,586.24 198.01,585.04 199.00,584.00 199.69,582.85 199.85,582.21 201.00,581.00 202.22,580.43 202.05,578.99 203.00,578.00 204.26,576.76 205.00,576.50 205.94,577.45 206.23,579.62 206.21,580.23 206.24,582.24 207.00,583.00 207.44,584.56 207.25,584.77 208.20,586.84 208.48,587.12 209.01,588.28 209.00,590.00 209.19,591.72 209.49,592.16 210.01,593.74 209.90,594.50 209.52,595.82 210.18,597.72 210.00,598.47 210.50,600.00 211.27,601.33 210.74,602.87 211.52,603.92 211.19,604.88 211.14,606.69 211.21,607.80 211.62,608.62 212.00,610.00 211.96,611.03 212.35,612.55 212.60,613.51 213.18,615.27 212.90,617.05 213.71,617.97 214.00,619.30" fill="none" stroke="#111" stroke-width="1.6" stroke-linejoin="round" stroke-dasharray="4 1.2"/>
<rect x="183.20" y="575.20" width="68.80" height="45.60" fill="none" stroke="#111" stroke-width="1.9"/>
<line x1="181.70" y1="626.60" x2="242.00" y2="626.60" stroke="#000" stroke-width="1.7"/>
<path d="M253.50 626.60 L240.00 623.20 L240.00 630.00 Z" fill="#000"/>
<text x="201.64" y="641.85" style="font-size:11.16px;">CD25</text>
<path d="M261.0 618.5 L261.0 600.0 L264.0 603.0 L268.0 605.0 L272.0 603.0 L276.0 600.0 L279.0 593.0 L282.0 585.0 L285.5 577.5 L287.0 580.0 L289.0 590.0 L292.0 600.0 L295.0 610.0 L297.0 618.5Z" fill="#cdcdcd"/>
<polyline points="261.00,601.00 262.35,602.37 262.32,603.50 263.27,604.11 264.40,605.00 265.27,605.42 266.45,606.88 268.00,607.00 269.08,606.51 269.53,604.50 270.58,604.14 271.80,602.88 272.20,602.00 273.60,600.77 273.87,600.26 275.75,599.66 276.50,599.00 276.58,598.21 278.05,596.70 278.13,595.35 278.67,594.37 279.00,593.00 278.82,592.07 279.72,590.76 280.56,588.78 280.52,587.55 281.41,585.80 281.50,585.00 281.68,584.13 282.32,583.06 283.48,581.68 284.00,580.00 284.26,579.50 285.48,578.35 286.50,577.00 287.07,578.11 287.19,579.73 287.56,580.85 288.50,582.00 288.75,583.24 289.44,583.98 289.29,585.86 289.49,587.35 290.09,588.74 290.91,589.47 290.70,591.00 291.29,592.50 290.77,593.28 290.92,595.08 292.07,596.04 292.12,596.89 292.49,598.19 292.50,600.00 292.94,601.83 293.38,602.65 293.45,603.48 293.92,605.18 294.20,606.83 294.25,607.61 294.30,609.00 294.61,610.77 294.44,610.98 295.80,612.73 295.99,614.08 296.00,615.00 297.14,616.54 297.20,617.33 297.80,618.50 299.01,618.50 300.22,618.50 301.42,618.50 302.63,618.50 303.84,618.50 305.05,618.50 306.26,618.50 307.46,618.50 308.67,618.50 309.88,618.50 311.09,618.50 312.30,618.50 313.50,618.50 314.71,618.50 315.92,618.50 317.13,618.50 318.34,618.50 319.54,618.50 320.75,618.50 321.96,618.50 323.17,618.50 324.38,618.50 325.58,618.50 326.79,618.50 328.00,618.50" fill="none" stroke="#767676" stroke-width="2.5" stroke-linejoin="round"/>
<polyline points="261.00,602.00 262.07,603.01 262.02,604.68 262.79,604.90 263.44,607.00 264.40,607.60 265.65,607.97 267.26,608.98 268.00,609.00 268.73,607.87 269.48,606.81 270.01,605.25 271.15,604.86 272.20,603.30 273.54,602.57 274.24,602.18 275.33,601.29 276.50,600.40 277.56,599.47 277.59,598.11 278.25,596.38 277.97,595.46 279.00,594.00 279.95,593.09 279.52,591.31 280.30,590.33 280.46,589.91 280.88,588.28 281.50,587.00 281.44,586.12 283.04,584.10 282.50,582.88 283.57,582.43 284.00,581.00 285.06,579.78 286.00,579.50 286.50,578.40 287.03,579.91 287.49,581.57 287.41,582.41 288.50,584.00 288.53,585.82 288.79,586.57 289.86,588.14 289.58,588.80 290.26,590.68 290.70,592.00 291.46,592.84 291.56,594.95 290.98,595.67 291.65,597.19 292.26,598.90 292.80,599.79 292.50,601.00 292.39,602.48 293.65,603.72 293.24,604.46 293.26,605.97 293.79,607.49 294.30,609.00 294.69,610.27 294.75,611.34 295.25,612.34 295.24,613.24 296.33,615.06 296.85,616.08 296.66,617.31 297.00,618.50" fill="none" stroke="#111" stroke-width="1.6" stroke-linejoin="round" stroke-dasharray="4 1.2"/>
<rect x="260.20" y="574.80" width="68.80" height="45.50" fill="none" stroke="#111" stroke-width="1.9"/>
<line x1="258.70" y1="626.60" x2="319.00" y2="626.60" stroke="#000" stroke-width="1.7"/>
<path d="M330.50 626.60 L317.00 623.20 L317.00 630.00 Z" fill="#000"/>
<text x="282.97" y="641.56" style="font-size:10.33px;">PD-1</text>
<text transform="translate(352.00,601.60) rotate(-90)" text-anchor="middle">CD62L</text>
<line x1="357.50" y1="578.00" x2="357.50" y2="640.30" stroke="#000" stroke-width="1.6"/>
<path d="M357.5 569 L353.4 581.8 L361.6 581.8 Z" fill="#000"/>
<line x1="356.70" y1="639.50" x2="468.00" y2="639.50" stroke="#000" stroke-width="1.6"/>
<path d="M479 639.5 L466 635.8 L466 643.2 Z" fill="#000"/>
<text x="482.98" y="644.61" style="font-size:10.46px;">CD44</text>
<text x="369.57" y="561.28" style="font-size:10.68px;">cKO-gp33+</text>
<text x="446.57" y="561.31" style="font-size:10.74px;">cHet gp33+</text>
<line x1="432.30" y1="567.80" x2="432.30" y2="632.30" stroke="#9a9a9a" stroke-width="1.2"/>
<line x1="364.30" y1="567.80" x2="364.30" y2="633.20" stroke="#000" stroke-width="1.9"/>
<line x1="363.40" y1="632.30" x2="432.30" y2="632.30" stroke="#000" stroke-width="1.9"/>
<line x1="362.50" y1="571.80" x2="364.30" y2="571.80" stroke="#000" stroke-width="1.1"/>
<line x1="362.50" y1="580.16" x2="364.30" y2="580.16" stroke="#000" stroke-width="1.1"/>
<line x1="362.50" y1="588.51" x2="364.30" y2="588.51" stroke="#000" stroke-width="1.1"/>
<line x1="362.50" y1="596.87" x2="364.30" y2="596.87" stroke="#000" stroke-width="1.1"/>
<line x1="362.50" y1="605.23" x2="364.30" y2="605.23" stroke="#000" stroke-width="1.1"/>
<line x1="362.50" y1="613.59" x2="364.30" y2="613.59" stroke="#000" stroke-width="1.1"/>
<line x1="362.50" y1="621.94" x2="364.30" y2="621.94" stroke="#000" stroke-width="1.1"/>
<line x1="362.50" y1="630.30" x2="364.30" y2="630.30" stroke="#000" stroke-width="1.1"/>
<line x1="367.30" y1="632.30" x2="367.30" y2="634.10" stroke="#000" stroke-width="1.1"/>
<line x1="375.30" y1="632.30" x2="375.30" y2="634.10" stroke="#000" stroke-width="1.1"/>
<line x1="383.30" y1="632.30" x2="383.30" y2="634.10" stroke="#000" stroke-width="1.1"/>
<line x1="391.30" y1="632.30" x2="391.30" y2="634.10" stroke="#000" stroke-width="1.1"/>
<line x1="399.30" y1="632.30" x2="399.30" y2="634.10" stroke="#000" stroke-width="1.1"/>
<line x1="407.30" y1="632.30" x2="407.30" y2="634.10" stroke="#000" stroke-width="1.1"/>
<line x1="415.30" y1="632.30" x2="415.30" y2="634.10" stroke="#000" stroke-width="1.1"/>
<line x1="423.30" y1="632.30" x2="423.30" y2="634.10" stroke="#000" stroke-width="1.1"/>
<line x1="431.30" y1="632.30" x2="431.30" y2="634.10" stroke="#000" stroke-width="1.1"/>
<line x1="363.40" y1="567.80" x2="432.30" y2="567.80" stroke="#000" stroke-width="1.7"/>
<rect x="404.30" y="572.00" width="21.50" height="60.30" fill="none" stroke="#000" stroke-width="1.8"/>
<line x1="404.30" y1="593.20" x2="425.80" y2="593.20" stroke="#000" stroke-width="1.9"/>
<text x="392.70" y="586.95" text-anchor="middle" style="font-size:10.3px;">29</text>
<text x="392.60" y="616.05" text-anchor="middle" style="font-size:10.3px;">71</text>
<line x1="508.30" y1="567.40" x2="508.30" y2="632.40" stroke="#9a9a9a" stroke-width="1.2"/>
<line x1="440.60" y1="567.40" x2="440.60" y2="633.30" stroke="#000" stroke-width="1.9"/>
<line x1="439.70" y1="632.40" x2="508.30" y2="632.40" stroke="#000" stroke-width="1.9"/>
<line x1="438.80" y1="571.40" x2="440.60" y2="571.40" stroke="#000" stroke-width="1.1"/>
<line x1="438.80" y1="579.83" x2="440.60" y2="579.83" stroke="#000" stroke-width="1.1"/>
<line x1="438.80" y1="588.26" x2="440.60" y2="588.26" stroke="#000" stroke-width="1.1"/>
<line x1="438.80" y1="596.69" x2="440.60" y2="596.69" stroke="#000" stroke-width="1.1"/>
<line x1="438.80" y1="605.11" x2="440.60" y2="605.11" stroke="#000" stroke-width="1.1"/>
<line x1="438.80" y1="613.54" x2="440.60" y2="613.54" stroke="#000" stroke-width="1.1"/>
<line x1="438.80" y1="621.97" x2="440.60" y2="621.97" stroke="#000" stroke-width="1.1"/>
<line x1="438.80" y1="630.40" x2="440.60" y2="630.40" stroke="#000" stroke-width="1.1"/>
<line x1="443.60" y1="632.40" x2="443.60" y2="634.20" stroke="#000" stroke-width="1.1"/>
<line x1="451.60" y1="632.40" x2="451.60" y2="634.20" stroke="#000" stroke-width="1.1"/>
<line x1="459.60" y1="632.40" x2="459.60" y2="634.20" stroke="#000" stroke-width="1.1"/>
<line x1="467.60" y1="632.40" x2="467.60" y2="634.20" stroke="#000" stroke-width="1.1"/>
<line x1="475.60" y1="632.40" x2="475.60" y2="634.20" stroke="#000" stroke-width="1.1"/>
<line x1="483.60" y1="632.40" x2="483.60" y2="634.20" stroke="#000" stroke-width="1.1"/>
<line x1="491.60" y1="632.40" x2="491.60" y2="634.20" stroke="#000" stroke-width="1.1"/>
<line x1="499.60" y1="632.40" x2="499.60" y2="634.20" stroke="#000" stroke-width="1.1"/>
<line x1="507.60" y1="632.40" x2="507.60" y2="634.20" stroke="#000" stroke-width="1.1"/>
<line x1="439.70" y1="567.40" x2="508.30" y2="567.40" stroke="#000" stroke-width="1.7"/>
<rect x="480.60" y="572.00" width="21.70" height="60.40" fill="none" stroke="#000" stroke-width="1.8"/>
<line x1="480.60" y1="592.80" x2="502.30" y2="592.80" stroke="#000" stroke-width="1.9"/>
<text x="464.45" y="586.95" text-anchor="middle" style="font-size:10.3px;">23.5</text>
<text x="464.05" y="616.05" text-anchor="middle" style="font-size:10.3px;">76.5</text>
</svg>
</body></html>
